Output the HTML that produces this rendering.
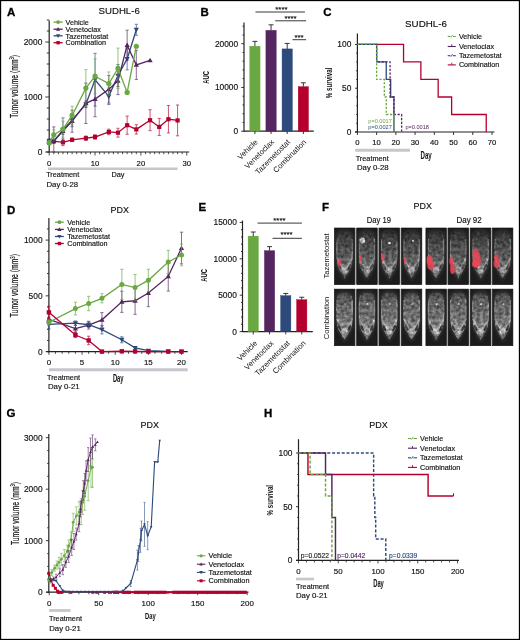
<!DOCTYPE html><html><head><meta charset="utf-8"><style>html,body{margin:0;padding:0;background:#fff}svg{display:block;will-change:transform}text{font-family:"Liberation Sans",sans-serif}</style></head><body>
<svg width="520" height="640" viewBox="0 0 520 640">
<rect x="0" y="0" width="520" height="640" fill="#fff"/>
<text x="7" y="16.4" font-size="11.5" font-weight="bold" fill="#000" stroke="#000" stroke-width="0.3">A</text>
<text x="98.6" y="14.3" font-size="9.5" text-anchor="start" fill="#111" font-weight="normal" stroke="#111" stroke-width="0.15"  textLength="41.2" lengthAdjust="spacingAndGlyphs">SUDHL-6</text>
<line x1="49.2" y1="20.4" x2="49.2" y2="152.5" stroke="#222" stroke-width="1.2" />
<line x1="46.5" y1="152" x2="189.2" y2="152" stroke="#222" stroke-width="1.2" />
<line x1="45.3" y1="152" x2="49.2" y2="152" stroke="#222" stroke-width="0.9" />
<line x1="46.8" y1="141" x2="49.2" y2="141" stroke="#222" stroke-width="0.9" />
<line x1="46.8" y1="130" x2="49.2" y2="130" stroke="#222" stroke-width="0.9" />
<line x1="46.8" y1="119" x2="49.2" y2="119" stroke="#222" stroke-width="0.9" />
<line x1="46.8" y1="108" x2="49.2" y2="108" stroke="#222" stroke-width="0.9" />
<line x1="45.3" y1="97" x2="49.2" y2="97" stroke="#222" stroke-width="0.9" />
<line x1="46.8" y1="86" x2="49.2" y2="86" stroke="#222" stroke-width="0.9" />
<line x1="46.8" y1="75" x2="49.2" y2="75" stroke="#222" stroke-width="0.9" />
<line x1="46.8" y1="64" x2="49.2" y2="64" stroke="#222" stroke-width="0.9" />
<line x1="46.8" y1="53" x2="49.2" y2="53" stroke="#222" stroke-width="0.9" />
<line x1="45.3" y1="42" x2="49.2" y2="42" stroke="#222" stroke-width="0.9" />
<line x1="46.8" y1="31" x2="49.2" y2="31" stroke="#222" stroke-width="0.9" />
<line x1="46.8" y1="20" x2="49.2" y2="20" stroke="#222" stroke-width="0.9" />
<text x="42.3" y="155" font-size="8.4" text-anchor="end" fill="#111" font-weight="normal" stroke="#111" stroke-width="0.15" >0</text>
<text x="42.3" y="100" font-size="8.4" text-anchor="end" fill="#111" font-weight="normal" stroke="#111" stroke-width="0.15" >1000</text>
<text x="42.3" y="45" font-size="8.4" text-anchor="end" fill="#111" font-weight="normal" stroke="#111" stroke-width="0.15" >2000</text>
<line x1="49.2" y1="152" x2="49.2" y2="155.5" stroke="#222" stroke-width="0.8" />
<line x1="53.79" y1="152" x2="53.79" y2="154.2" stroke="#222" stroke-width="0.8" />
<line x1="58.37" y1="152" x2="58.37" y2="154.2" stroke="#222" stroke-width="0.8" />
<line x1="62.95" y1="152" x2="62.95" y2="154.2" stroke="#222" stroke-width="0.8" />
<line x1="67.54" y1="152" x2="67.54" y2="154.2" stroke="#222" stroke-width="0.8" />
<line x1="72.12" y1="152" x2="72.12" y2="154.2" stroke="#222" stroke-width="0.8" />
<line x1="76.71" y1="152" x2="76.71" y2="154.2" stroke="#222" stroke-width="0.8" />
<line x1="81.3" y1="152" x2="81.3" y2="154.2" stroke="#222" stroke-width="0.8" />
<line x1="85.88" y1="152" x2="85.88" y2="154.2" stroke="#222" stroke-width="0.8" />
<line x1="90.47" y1="152" x2="90.47" y2="154.2" stroke="#222" stroke-width="0.8" />
<line x1="95.05" y1="152" x2="95.05" y2="155.5" stroke="#222" stroke-width="0.8" />
<line x1="99.64" y1="152" x2="99.64" y2="154.2" stroke="#222" stroke-width="0.8" />
<line x1="104.22" y1="152" x2="104.22" y2="154.2" stroke="#222" stroke-width="0.8" />
<line x1="108.81" y1="152" x2="108.81" y2="154.2" stroke="#222" stroke-width="0.8" />
<line x1="113.39" y1="152" x2="113.39" y2="154.2" stroke="#222" stroke-width="0.8" />
<line x1="117.98" y1="152" x2="117.98" y2="154.2" stroke="#222" stroke-width="0.8" />
<line x1="122.56" y1="152" x2="122.56" y2="154.2" stroke="#222" stroke-width="0.8" />
<line x1="127.14" y1="152" x2="127.14" y2="154.2" stroke="#222" stroke-width="0.8" />
<line x1="131.73" y1="152" x2="131.73" y2="154.2" stroke="#222" stroke-width="0.8" />
<line x1="136.31" y1="152" x2="136.31" y2="154.2" stroke="#222" stroke-width="0.8" />
<line x1="140.9" y1="152" x2="140.9" y2="155.5" stroke="#222" stroke-width="0.8" />
<line x1="145.49" y1="152" x2="145.49" y2="154.2" stroke="#222" stroke-width="0.8" />
<line x1="150.07" y1="152" x2="150.07" y2="154.2" stroke="#222" stroke-width="0.8" />
<line x1="154.66" y1="152" x2="154.66" y2="154.2" stroke="#222" stroke-width="0.8" />
<line x1="159.24" y1="152" x2="159.24" y2="154.2" stroke="#222" stroke-width="0.8" />
<line x1="163.82" y1="152" x2="163.82" y2="154.2" stroke="#222" stroke-width="0.8" />
<line x1="168.41" y1="152" x2="168.41" y2="154.2" stroke="#222" stroke-width="0.8" />
<line x1="173" y1="152" x2="173" y2="154.2" stroke="#222" stroke-width="0.8" />
<line x1="177.58" y1="152" x2="177.58" y2="154.2" stroke="#222" stroke-width="0.8" />
<line x1="182.17" y1="152" x2="182.17" y2="154.2" stroke="#222" stroke-width="0.8" />
<line x1="186.75" y1="152" x2="186.75" y2="155.5" stroke="#222" stroke-width="0.8" />
<text x="49.2" y="165.5" font-size="7.7" text-anchor="middle" fill="#111" font-weight="normal" stroke="#111" stroke-width="0.15" >0</text>
<text x="95.05" y="165.5" font-size="7.7" text-anchor="middle" fill="#111" font-weight="normal" stroke="#111" stroke-width="0.15" >10</text>
<text x="140.9" y="165.5" font-size="7.7" text-anchor="middle" fill="#111" font-weight="normal" stroke="#111" stroke-width="0.15" >20</text>
<text x="186.75" y="165.5" font-size="7.7" text-anchor="middle" fill="#111" font-weight="normal" stroke="#111" stroke-width="0.15" >30</text>
<text transform="translate(18.2,86.5) rotate(-90) scale(0.63,1)" font-size="10.8" text-anchor="middle" fill="#111" font-weight="normal" stroke="#111" stroke-width="0.2">Tumor volume (mm<tspan font-size="6.5" dy="-3.8">3</tspan><tspan dy="3.8">)</tspan></text>
<g stroke="#b5002e" stroke-width="0.9" opacity="0.75"><line x1="49.2" y1="141.72" x2="49.2" y2="143.91"/><line x1="47.6" y1="141.72" x2="50.8" y2="141.72"/><line x1="47.6" y1="143.91" x2="50.8" y2="143.91"/></g>
<g stroke="#b5002e" stroke-width="0.9" opacity="0.75"><line x1="53.79" y1="139.46" x2="53.79" y2="142.76"/><line x1="52.19" y1="139.46" x2="55.39" y2="139.46"/><line x1="52.19" y1="142.76" x2="55.39" y2="142.76"/></g>
<g stroke="#b5002e" stroke-width="0.9" opacity="0.75"><line x1="62.95" y1="139.02" x2="62.95" y2="145.62"/><line x1="61.35" y1="139.02" x2="64.55" y2="139.02"/><line x1="61.35" y1="145.62" x2="64.55" y2="145.62"/></g>
<g stroke="#b5002e" stroke-width="0.9" opacity="0.75"><line x1="72.12" y1="138.14" x2="72.12" y2="141.44"/><line x1="70.53" y1="138.14" x2="73.72" y2="138.14"/><line x1="70.53" y1="141.44" x2="73.72" y2="141.44"/></g>
<g stroke="#b5002e" stroke-width="0.9" opacity="0.75"><line x1="85.88" y1="136" x2="85.88" y2="140.4"/><line x1="84.28" y1="136" x2="87.48" y2="136"/><line x1="84.28" y1="140.4" x2="87.48" y2="140.4"/></g>
<g stroke="#b5002e" stroke-width="0.9" opacity="0.75"><line x1="95.05" y1="134.78" x2="95.05" y2="139.19"/><line x1="93.45" y1="134.78" x2="96.65" y2="134.78"/><line x1="93.45" y1="139.19" x2="96.65" y2="139.19"/></g>
<g stroke="#b5002e" stroke-width="0.9" opacity="0.75"><line x1="108.81" y1="129.18" x2="108.81" y2="134.68"/><line x1="107.21" y1="129.18" x2="110.41" y2="129.18"/><line x1="107.21" y1="134.68" x2="110.41" y2="134.68"/></g>
<g stroke="#b5002e" stroke-width="0.9" opacity="0.75"><line x1="117.98" y1="128.29" x2="117.98" y2="137.09"/><line x1="116.38" y1="128.29" x2="119.58" y2="128.29"/><line x1="116.38" y1="137.09" x2="119.58" y2="137.09"/></g>
<g stroke="#b5002e" stroke-width="0.9" opacity="0.75"><line x1="127.14" y1="116.14" x2="127.14" y2="134.29"/><line x1="125.55" y1="116.14" x2="128.75" y2="116.14"/><line x1="125.55" y1="134.29" x2="128.75" y2="134.29"/></g>
<g stroke="#b5002e" stroke-width="0.9" opacity="0.75"><line x1="136.31" y1="124.72" x2="136.31" y2="134.07"/><line x1="134.72" y1="124.72" x2="137.91" y2="124.72"/><line x1="134.72" y1="134.07" x2="137.91" y2="134.07"/></g>
<g stroke="#b5002e" stroke-width="0.9" opacity="0.75"><line x1="150.07" y1="109.76" x2="150.07" y2="130.66"/><line x1="148.47" y1="109.76" x2="151.67" y2="109.76"/><line x1="148.47" y1="130.66" x2="151.67" y2="130.66"/></g>
<g stroke="#b5002e" stroke-width="0.9" opacity="0.75"><line x1="159.24" y1="118.4" x2="159.24" y2="135.44"/><line x1="157.64" y1="118.4" x2="160.84" y2="118.4"/><line x1="157.64" y1="135.44" x2="160.84" y2="135.44"/></g>
<g stroke="#b5002e" stroke-width="0.9" opacity="0.75"><line x1="168.41" y1="105.47" x2="168.41" y2="132.97"/><line x1="166.81" y1="105.47" x2="170.01" y2="105.47"/><line x1="166.81" y1="132.97" x2="170.01" y2="132.97"/></g>
<g stroke="#b5002e" stroke-width="0.9" opacity="0.75"><line x1="177.58" y1="105.03" x2="177.58" y2="135.83"/><line x1="175.98" y1="105.03" x2="179.18" y2="105.03"/><line x1="175.98" y1="135.83" x2="179.18" y2="135.83"/></g>
<polyline points="49.2,142.81 53.79,141.11 62.95,142.32 72.12,139.79 85.88,138.19 95.05,136.99 108.81,131.93 117.98,132.69 127.14,125.22 136.31,129.4 150.07,120.21 159.24,126.92 168.41,119.22 177.58,120.43" fill="none" stroke="#b5002e" stroke-width="1.3" />
<rect x="47.1" y="140.72" width="4.2" height="4.2" fill="#b5002e"/>
<rect x="51.69" y="139.01" width="4.2" height="4.2" fill="#b5002e"/>
<rect x="60.85" y="140.22" width="4.2" height="4.2" fill="#b5002e"/>
<rect x="70.03" y="137.69" width="4.2" height="4.2" fill="#b5002e"/>
<rect x="83.78" y="136.09" width="4.2" height="4.2" fill="#b5002e"/>
<rect x="92.95" y="134.89" width="4.2" height="4.2" fill="#b5002e"/>
<rect x="106.71" y="129.83" width="4.2" height="4.2" fill="#b5002e"/>
<rect x="115.88" y="130.59" width="4.2" height="4.2" fill="#b5002e"/>
<rect x="125.05" y="123.12" width="4.2" height="4.2" fill="#b5002e"/>
<rect x="134.22" y="127.3" width="4.2" height="4.2" fill="#b5002e"/>
<rect x="147.97" y="118.11" width="4.2" height="4.2" fill="#b5002e"/>
<rect x="157.14" y="124.82" width="4.2" height="4.2" fill="#b5002e"/>
<rect x="166.31" y="117.12" width="4.2" height="4.2" fill="#b5002e"/>
<rect x="175.48" y="118.33" width="4.2" height="4.2" fill="#b5002e"/>
<g stroke="#2c4a7c" stroke-width="0.9" opacity="0.75"><line x1="49.2" y1="138.8" x2="49.2" y2="143.2"/><line x1="47.6" y1="138.8" x2="50.8" y2="138.8"/><line x1="47.6" y1="143.2" x2="50.8" y2="143.2"/></g>
<g stroke="#2c4a7c" stroke-width="0.9" opacity="0.75"><line x1="53.79" y1="139.07" x2="53.79" y2="143.47"/><line x1="52.19" y1="139.07" x2="55.39" y2="139.07"/><line x1="52.19" y1="143.47" x2="55.39" y2="143.47"/></g>
<g stroke="#2c4a7c" stroke-width="0.9" opacity="0.75"><line x1="62.95" y1="117.9" x2="62.95" y2="142.1"/><line x1="61.35" y1="117.9" x2="64.55" y2="117.9"/><line x1="61.35" y1="142.1" x2="64.55" y2="142.1"/></g>
<g stroke="#2c4a7c" stroke-width="0.9" opacity="0.75"><line x1="72.12" y1="113.5" x2="72.12" y2="126.7"/><line x1="70.53" y1="113.5" x2="73.72" y2="113.5"/><line x1="70.53" y1="126.7" x2="73.72" y2="126.7"/></g>
<g stroke="#2c4a7c" stroke-width="0.9" opacity="0.75"><line x1="85.88" y1="100.85" x2="85.88" y2="107.45"/><line x1="84.28" y1="100.85" x2="87.48" y2="100.85"/><line x1="84.28" y1="107.45" x2="87.48" y2="107.45"/></g>
<g stroke="#2c4a7c" stroke-width="0.9" opacity="0.75"><line x1="95.05" y1="53.33" x2="95.05" y2="106.13"/><line x1="93.45" y1="53.33" x2="96.65" y2="53.33"/><line x1="93.45" y1="106.13" x2="96.65" y2="106.13"/></g>
<g stroke="#2c4a7c" stroke-width="0.9" opacity="0.75"><line x1="108.81" y1="88.09" x2="108.81" y2="104.59"/><line x1="107.21" y1="88.09" x2="110.41" y2="88.09"/><line x1="107.21" y1="104.59" x2="110.41" y2="104.59"/></g>
<g stroke="#2c4a7c" stroke-width="0.9" opacity="0.75"><line x1="117.98" y1="64.55" x2="117.98" y2="86.55"/><line x1="116.38" y1="64.55" x2="119.58" y2="64.55"/><line x1="116.38" y1="86.55" x2="119.58" y2="86.55"/></g>
<g stroke="#2c4a7c" stroke-width="0.9" opacity="0.75"><line x1="127.14" y1="47.89" x2="127.14" y2="69.89"/><line x1="125.55" y1="47.89" x2="128.75" y2="47.89"/><line x1="125.55" y1="69.89" x2="128.75" y2="69.89"/></g>
<g stroke="#2c4a7c" stroke-width="0.9" opacity="0.75"><line x1="136.31" y1="24.29" x2="136.31" y2="35.29"/><line x1="134.72" y1="24.29" x2="137.91" y2="24.29"/><line x1="134.72" y1="35.29" x2="137.91" y2="35.29"/></g>
<polyline points="49.2,141 53.79,141.28 62.95,130 72.12,120.1 85.88,104.15 95.05,79.73 108.81,96.34 117.98,75.55 127.14,58.89 136.31,29.79" fill="none" stroke="#2c4a7c" stroke-width="1.3" />
<polygon points="49.2,143.64 51.84,139.08 46.56,139.08" fill="#2c4a7c"/>
<polygon points="53.79,143.91 56.43,139.36 51.15,139.36" fill="#2c4a7c"/>
<polygon points="62.95,132.64 65.59,128.08 60.31,128.08" fill="#2c4a7c"/>
<polygon points="72.12,122.74 74.77,118.18 69.48,118.18" fill="#2c4a7c"/>
<polygon points="85.88,106.79 88.52,102.23 83.24,102.23" fill="#2c4a7c"/>
<polygon points="95.05,82.37 97.69,77.81 92.41,77.81" fill="#2c4a7c"/>
<polygon points="108.81,98.98 111.45,94.42 106.17,94.42" fill="#2c4a7c"/>
<polygon points="117.98,78.19 120.62,73.63 115.34,73.63" fill="#2c4a7c"/>
<polygon points="127.14,61.53 129.78,56.97 124.5,56.97" fill="#2c4a7c"/>
<polygon points="136.31,32.43 138.95,27.87 133.68,27.87" fill="#2c4a7c"/>
<g stroke="#55255f" stroke-width="0.9" opacity="0.75"><line x1="49.2" y1="139.9" x2="49.2" y2="144.3"/><line x1="47.6" y1="139.9" x2="50.8" y2="139.9"/><line x1="47.6" y1="144.3" x2="50.8" y2="144.3"/></g>
<g stroke="#55255f" stroke-width="0.9" opacity="0.75"><line x1="53.79" y1="126.92" x2="53.79" y2="152"/><line x1="52.19" y1="126.92" x2="55.39" y2="126.92"/><line x1="52.19" y1="152" x2="55.39" y2="152"/></g>
<g stroke="#55255f" stroke-width="0.9" opacity="0.75"><line x1="62.95" y1="127.8" x2="62.95" y2="134.4"/><line x1="61.35" y1="127.8" x2="64.55" y2="127.8"/><line x1="61.35" y1="134.4" x2="64.55" y2="134.4"/></g>
<g stroke="#55255f" stroke-width="0.9" opacity="0.75"><line x1="72.12" y1="110.2" x2="72.12" y2="132.2"/><line x1="70.53" y1="110.2" x2="73.72" y2="110.2"/><line x1="70.53" y1="132.2" x2="73.72" y2="132.2"/></g>
<g stroke="#55255f" stroke-width="0.9" opacity="0.75"><line x1="85.88" y1="83.14" x2="85.88" y2="123.51"/><line x1="84.28" y1="83.14" x2="87.48" y2="83.14"/><line x1="84.28" y1="123.51" x2="87.48" y2="123.51"/></g>
<g stroke="#55255f" stroke-width="0.9" opacity="0.75"><line x1="95.05" y1="81.49" x2="95.05" y2="116.69"/><line x1="93.45" y1="81.49" x2="96.65" y2="81.49"/><line x1="93.45" y1="116.69" x2="96.65" y2="116.69"/></g>
<g stroke="#55255f" stroke-width="0.9" opacity="0.75"><line x1="108.81" y1="75.55" x2="108.81" y2="103.05"/><line x1="107.21" y1="75.55" x2="110.41" y2="75.55"/><line x1="107.21" y1="103.05" x2="110.41" y2="103.05"/></g>
<g stroke="#55255f" stroke-width="0.9" opacity="0.75"><line x1="117.98" y1="67.08" x2="117.98" y2="94.58"/><line x1="116.38" y1="67.08" x2="119.58" y2="67.08"/><line x1="116.38" y1="94.58" x2="119.58" y2="94.58"/></g>
<g stroke="#55255f" stroke-width="0.9" opacity="0.75"><line x1="127.14" y1="30.17" x2="127.14" y2="60.2"/><line x1="125.55" y1="30.17" x2="128.75" y2="30.17"/><line x1="125.55" y1="60.2" x2="128.75" y2="60.2"/></g>
<g stroke="#55255f" stroke-width="0.9" opacity="0.75"><line x1="136.31" y1="50.36" x2="136.31" y2="79.51"/><line x1="134.72" y1="50.36" x2="137.91" y2="50.36"/><line x1="134.72" y1="79.51" x2="137.91" y2="79.51"/></g>
<polyline points="49.2,142.1 53.79,141 62.95,131.1 72.12,121.2 85.88,103.33 95.05,99.09 108.81,89.3 117.98,80.83 127.14,45.19 136.31,64.94 150.07,60.42" fill="none" stroke="#55255f" stroke-width="1.3" />
<polygon points="49.2,139.46 51.84,144.02 46.56,144.02" fill="#55255f"/>
<polygon points="53.79,138.36 56.43,142.92 51.15,142.92" fill="#55255f"/>
<polygon points="62.95,128.46 65.59,133.02 60.31,133.02" fill="#55255f"/>
<polygon points="72.12,118.56 74.77,123.12 69.48,123.12" fill="#55255f"/>
<polygon points="85.88,100.69 88.52,105.25 83.24,105.25" fill="#55255f"/>
<polygon points="95.05,96.45 97.69,101.01 92.41,101.01" fill="#55255f"/>
<polygon points="108.81,86.66 111.45,91.22 106.17,91.22" fill="#55255f"/>
<polygon points="117.98,78.19 120.62,82.75 115.34,82.75" fill="#55255f"/>
<polygon points="127.14,42.55 129.78,47.11 124.5,47.11" fill="#55255f"/>
<polygon points="136.31,62.3 138.95,66.86 133.68,66.86" fill="#55255f"/>
<polygon points="150.07,57.78 152.71,62.34 147.43,62.34" fill="#55255f"/>
<g stroke="#6aa842" stroke-width="0.9" opacity="0.75"><line x1="49.2" y1="140.62" x2="49.2" y2="145.01"/><line x1="47.6" y1="140.62" x2="50.8" y2="140.62"/><line x1="47.6" y1="145.01" x2="50.8" y2="145.01"/></g>
<g stroke="#6aa842" stroke-width="0.9" opacity="0.75"><line x1="53.79" y1="129.84" x2="53.79" y2="139.74"/><line x1="52.19" y1="129.84" x2="55.39" y2="129.84"/><line x1="52.19" y1="139.74" x2="55.39" y2="139.74"/></g>
<g stroke="#6aa842" stroke-width="0.9" opacity="0.75"><line x1="62.95" y1="121.2" x2="62.95" y2="137.15"/><line x1="61.35" y1="121.2" x2="64.55" y2="121.2"/><line x1="61.35" y1="137.15" x2="64.55" y2="137.15"/></g>
<g stroke="#6aa842" stroke-width="0.9" opacity="0.75"><line x1="72.12" y1="106.19" x2="72.12" y2="124.66"/><line x1="70.53" y1="106.19" x2="73.72" y2="106.19"/><line x1="70.53" y1="124.66" x2="73.72" y2="124.66"/></g>
<g stroke="#6aa842" stroke-width="0.9" opacity="0.75"><line x1="85.88" y1="69.61" x2="85.88" y2="106.57"/><line x1="84.28" y1="69.61" x2="87.48" y2="69.61"/><line x1="84.28" y1="106.57" x2="87.48" y2="106.57"/></g>
<g stroke="#6aa842" stroke-width="0.9" opacity="0.75"><line x1="95.05" y1="58.78" x2="95.05" y2="93.65"/><line x1="93.45" y1="58.78" x2="96.65" y2="58.78"/><line x1="93.45" y1="93.65" x2="96.65" y2="93.65"/></g>
<g stroke="#6aa842" stroke-width="0.9" opacity="0.75"><line x1="108.81" y1="71.97" x2="108.81" y2="95.08"/><line x1="107.21" y1="71.97" x2="110.41" y2="71.97"/><line x1="107.21" y1="95.08" x2="110.41" y2="95.08"/></g>
<g stroke="#6aa842" stroke-width="0.9" opacity="0.75"><line x1="117.98" y1="48.11" x2="117.98" y2="88.69"/><line x1="116.38" y1="48.11" x2="119.58" y2="48.11"/><line x1="116.38" y1="88.69" x2="119.58" y2="88.69"/></g>
<polyline points="49.2,142.81 53.79,134.78 62.95,129.18 72.12,115.42 85.88,88.09 95.05,76.21 108.81,83.53 117.98,68.4 127.14,92.44 136.31,46.23" fill="none" stroke="#6aa842" stroke-width="1.3" />
<circle cx="49.2" cy="142.81" r="2.6" fill="#6aa842"/>
<circle cx="53.79" cy="134.78" r="2.6" fill="#6aa842"/>
<circle cx="62.95" cy="129.18" r="2.6" fill="#6aa842"/>
<circle cx="72.12" cy="115.42" r="2.6" fill="#6aa842"/>
<circle cx="85.88" cy="88.09" r="2.6" fill="#6aa842"/>
<circle cx="95.05" cy="76.21" r="2.6" fill="#6aa842"/>
<circle cx="108.81" cy="83.53" r="2.6" fill="#6aa842"/>
<circle cx="117.98" cy="68.4" r="2.6" fill="#6aa842"/>
<circle cx="127.14" cy="92.44" r="2.6" fill="#6aa842"/>
<circle cx="136.31" cy="46.23" r="2.6" fill="#6aa842"/>
<line x1="53.5" y1="22.1" x2="62.7" y2="22.1" stroke="#6aa842" stroke-width="1.3" />
<circle cx="58.1" cy="22.1" r="1.9" fill="#6aa842"/>
<text x="65.6" y="24.8" font-size="7.2" text-anchor="start" fill="#111" font-weight="normal" stroke="#111" stroke-width="0.15" >Vehicle</text>
<line x1="53.5" y1="29.2" x2="62.7" y2="29.2" stroke="#55255f" stroke-width="1.3" />
<polygon points="58.1,27.11 60.19,30.72 56.01,30.72" fill="#55255f"/>
<text x="65.6" y="31.9" font-size="7.2" text-anchor="start" fill="#111" font-weight="normal" stroke="#111" stroke-width="0.15" >Venetoclax</text>
<line x1="53.5" y1="35.8" x2="62.7" y2="35.8" stroke="#2c4a7c" stroke-width="1.3" />
<polygon points="58.1,37.89 60.19,34.28 56.01,34.28" fill="#2c4a7c"/>
<text x="65.6" y="38.5" font-size="7.2" text-anchor="start" fill="#111" font-weight="normal" stroke="#111" stroke-width="0.15" >Tazemetostat</text>
<line x1="53.5" y1="42.7" x2="62.7" y2="42.7" stroke="#b5002e" stroke-width="1.3" />
<rect x="56.4" y="41" width="3.4" height="3.4" fill="#b5002e"/>
<text x="65.6" y="45.4" font-size="7.2" text-anchor="start" fill="#111" font-weight="normal" stroke="#111" stroke-width="0.15" >Combination</text>
<line x1="48" y1="168.7" x2="177.5" y2="168.7" stroke="#c6c6cc" stroke-width="2.6" />
<text x="46.2" y="177.4" font-size="7.3" text-anchor="start" fill="#111" font-weight="normal" stroke="#111" stroke-width="0.15" >Treatment</text>
<text x="46.5" y="186.9" font-size="7.4" text-anchor="start" fill="#111" font-weight="normal" stroke="#111" stroke-width="0.15"  textLength="31.6" lengthAdjust="spacingAndGlyphs">Day 0-28</text>
<text x="111.4" y="177.4" font-size="7.3" text-anchor="start" fill="#111" font-weight="normal" stroke="#111" stroke-width="0.15" >Day</text>
<text x="200.5" y="16.2" font-size="11.5" font-weight="bold" fill="#000" stroke="#000" stroke-width="0.3">B</text>
<line x1="244" y1="22.6" x2="244" y2="131.7" stroke="#222" stroke-width="1.2" />
<line x1="244" y1="131.2" x2="313.8" y2="131.2" stroke="#222" stroke-width="1.2" />
<line x1="241.2" y1="131.2" x2="244" y2="131.2" stroke="#222" stroke-width="0.9" />
<line x1="242.5" y1="122.45" x2="244" y2="122.45" stroke="#222" stroke-width="0.9" />
<line x1="242.5" y1="113.7" x2="244" y2="113.7" stroke="#222" stroke-width="0.9" />
<line x1="242.5" y1="104.95" x2="244" y2="104.95" stroke="#222" stroke-width="0.9" />
<line x1="242.5" y1="96.2" x2="244" y2="96.2" stroke="#222" stroke-width="0.9" />
<line x1="241.2" y1="87.45" x2="244" y2="87.45" stroke="#222" stroke-width="0.9" />
<line x1="242.5" y1="78.7" x2="244" y2="78.7" stroke="#222" stroke-width="0.9" />
<line x1="242.5" y1="69.95" x2="244" y2="69.95" stroke="#222" stroke-width="0.9" />
<line x1="242.5" y1="61.2" x2="244" y2="61.2" stroke="#222" stroke-width="0.9" />
<line x1="242.5" y1="52.45" x2="244" y2="52.45" stroke="#222" stroke-width="0.9" />
<line x1="241.2" y1="43.7" x2="244" y2="43.7" stroke="#222" stroke-width="0.9" />
<line x1="242.5" y1="34.95" x2="244" y2="34.95" stroke="#222" stroke-width="0.9" />
<line x1="242.5" y1="26.2" x2="244" y2="26.2" stroke="#222" stroke-width="0.9" />
<text x="238.2" y="134.2" font-size="8.4" text-anchor="end" fill="#111" font-weight="normal" stroke="#111" stroke-width="0.15" >0</text>
<text x="238.2" y="90.45" font-size="8.4" text-anchor="end" fill="#111" font-weight="normal" stroke="#111" stroke-width="0.15" >10000</text>
<text x="238.2" y="46.7" font-size="8.4" text-anchor="end" fill="#111" font-weight="normal" stroke="#111" stroke-width="0.15" >20000</text>
<text transform="translate(209.2,77.4) rotate(-90) scale(0.64,1)" font-size="9.2" text-anchor="middle" fill="#111" font-weight="bold">AUC</text>
<rect x="249.75" y="46.19" width="10.3" height="85.01" fill="#6aa842" stroke="#6aa842" stroke-width="0.4"/>
<line x1="254.9" y1="46.19" x2="254.9" y2="41.38" stroke="#222" stroke-width="0.9" />
<line x1="252.4" y1="41.38" x2="257.4" y2="41.38" stroke="#222" stroke-width="0.9" />
<line x1="254.9" y1="131.2" x2="254.9" y2="134" stroke="#222" stroke-width="0.9" />
<rect x="265.9" y="30.31" width="10.3" height="100.89" fill="#55255f" stroke="#55255f" stroke-width="0.4"/>
<line x1="271.05" y1="30.31" x2="271.05" y2="24.84" stroke="#222" stroke-width="0.9" />
<line x1="268.55" y1="24.84" x2="273.55" y2="24.84" stroke="#222" stroke-width="0.9" />
<line x1="271.05" y1="131.2" x2="271.05" y2="134" stroke="#222" stroke-width="0.9" />
<rect x="282.05" y="48.91" width="10.3" height="82.29" fill="#2c4a7c" stroke="#2c4a7c" stroke-width="0.4"/>
<line x1="287.2" y1="48.91" x2="287.2" y2="43.44" stroke="#222" stroke-width="0.9" />
<line x1="284.7" y1="43.44" x2="289.7" y2="43.44" stroke="#222" stroke-width="0.9" />
<line x1="287.2" y1="131.2" x2="287.2" y2="134" stroke="#222" stroke-width="0.9" />
<rect x="298.2" y="86.62" width="10.3" height="44.58" fill="#b5002e" stroke="#b5002e" stroke-width="0.4"/>
<line x1="303.35" y1="86.62" x2="303.35" y2="82.81" stroke="#222" stroke-width="0.9" />
<line x1="300.85" y1="82.81" x2="305.85" y2="82.81" stroke="#222" stroke-width="0.9" />
<line x1="303.35" y1="131.2" x2="303.35" y2="134" stroke="#222" stroke-width="0.9" />
<text transform="translate(258.3,142.6) rotate(-45) scale(1.0,1)" font-size="7.7" text-anchor="end" fill="#111" font-weight="normal">Vehicle</text>
<text transform="translate(274.45,142.6) rotate(-45) scale(1.0,1)" font-size="7.7" text-anchor="end" fill="#111" font-weight="normal">Venetoclax</text>
<text transform="translate(290.6,142.6) rotate(-45) scale(1.0,1)" font-size="7.7" text-anchor="end" fill="#111" font-weight="normal">Tazemetostat</text>
<text transform="translate(306.75,142.6) rotate(-45) scale(1.0,1)" font-size="7.7" text-anchor="end" fill="#111" font-weight="normal">Combination</text>
<line x1="255.5" y1="12" x2="304.9" y2="12" stroke="#222" stroke-width="0.9" />
<text x="281.4" y="12.2" font-size="7.8" text-anchor="middle" fill="#111" font-weight="normal" stroke="#111" stroke-width="0.15" >****</text>
<line x1="275.2" y1="20.8" x2="306.1" y2="20.8" stroke="#222" stroke-width="0.9" />
<text x="290.6" y="20.8" font-size="7.8" text-anchor="middle" fill="#111" font-weight="normal" stroke="#111" stroke-width="0.15" >****</text>
<line x1="292.5" y1="39.7" x2="306.1" y2="39.7" stroke="#222" stroke-width="0.9" />
<text x="299" y="39.8" font-size="7.8" text-anchor="middle" fill="#111" font-weight="normal" stroke="#111" stroke-width="0.15" >***</text>
<text x="323.2" y="16.2" font-size="11.5" font-weight="bold" fill="#000" stroke="#000" stroke-width="0.3">C</text>
<text x="405.1" y="27.1" font-size="9.4" text-anchor="start" fill="#111" font-weight="normal" stroke="#111" stroke-width="0.15"  textLength="41.8" lengthAdjust="spacingAndGlyphs">SUDHL-6</text>
<line x1="357.4" y1="33.5" x2="357.4" y2="132.5" stroke="#222" stroke-width="1.2" />
<line x1="355" y1="132" x2="494.5" y2="132" stroke="#222" stroke-width="1.2" />
<line x1="355" y1="132" x2="357.4" y2="132" stroke="#222" stroke-width="0.9" />
<line x1="356.2" y1="123.25" x2="357.4" y2="123.25" stroke="#222" stroke-width="0.9" />
<line x1="356.2" y1="114.49" x2="357.4" y2="114.49" stroke="#222" stroke-width="0.9" />
<line x1="356.2" y1="105.73" x2="357.4" y2="105.73" stroke="#222" stroke-width="0.9" />
<line x1="356.2" y1="96.98" x2="357.4" y2="96.98" stroke="#222" stroke-width="0.9" />
<line x1="355" y1="88.22" x2="357.4" y2="88.22" stroke="#222" stroke-width="0.9" />
<line x1="356.2" y1="79.47" x2="357.4" y2="79.47" stroke="#222" stroke-width="0.9" />
<line x1="356.2" y1="70.72" x2="357.4" y2="70.72" stroke="#222" stroke-width="0.9" />
<line x1="356.2" y1="61.96" x2="357.4" y2="61.96" stroke="#222" stroke-width="0.9" />
<line x1="356.2" y1="53.2" x2="357.4" y2="53.2" stroke="#222" stroke-width="0.9" />
<line x1="355" y1="44.45" x2="357.4" y2="44.45" stroke="#222" stroke-width="0.9" />
<text x="351.3" y="135" font-size="8.4" text-anchor="end" fill="#111" font-weight="normal" stroke="#111" stroke-width="0.15" >0</text>
<text x="351.3" y="91.22" font-size="8.4" text-anchor="end" fill="#111" font-weight="normal" stroke="#111" stroke-width="0.15" >50</text>
<text x="351.3" y="47.45" font-size="8.4" text-anchor="end" fill="#111" font-weight="normal" stroke="#111" stroke-width="0.15" >100</text>
<line x1="357.4" y1="132" x2="357.4" y2="135" stroke="#222" stroke-width="0.9" />
<line x1="376.63" y1="132" x2="376.63" y2="135" stroke="#222" stroke-width="0.9" />
<line x1="395.86" y1="132" x2="395.86" y2="135" stroke="#222" stroke-width="0.9" />
<line x1="415.09" y1="132" x2="415.09" y2="135" stroke="#222" stroke-width="0.9" />
<line x1="434.32" y1="132" x2="434.32" y2="135" stroke="#222" stroke-width="0.9" />
<line x1="453.55" y1="132" x2="453.55" y2="135" stroke="#222" stroke-width="0.9" />
<line x1="472.78" y1="132" x2="472.78" y2="135" stroke="#222" stroke-width="0.9" />
<line x1="492.01" y1="132" x2="492.01" y2="135" stroke="#222" stroke-width="0.9" />
<text x="357.4" y="145.1" font-size="7.7" text-anchor="middle" fill="#111" font-weight="normal" stroke="#111" stroke-width="0.15" >0</text>
<text x="376.63" y="145.1" font-size="7.7" text-anchor="middle" fill="#111" font-weight="normal" stroke="#111" stroke-width="0.15" >10</text>
<text x="395.86" y="145.1" font-size="7.7" text-anchor="middle" fill="#111" font-weight="normal" stroke="#111" stroke-width="0.15" >20</text>
<text x="415.09" y="145.1" font-size="7.7" text-anchor="middle" fill="#111" font-weight="normal" stroke="#111" stroke-width="0.15" >30</text>
<text x="434.32" y="145.1" font-size="7.7" text-anchor="middle" fill="#111" font-weight="normal" stroke="#111" stroke-width="0.15" >40</text>
<text x="453.55" y="145.1" font-size="7.7" text-anchor="middle" fill="#111" font-weight="normal" stroke="#111" stroke-width="0.15" >50</text>
<text x="472.78" y="145.1" font-size="7.7" text-anchor="middle" fill="#111" font-weight="normal" stroke="#111" stroke-width="0.15" >60</text>
<text x="492.01" y="145.1" font-size="7.7" text-anchor="middle" fill="#111" font-weight="normal" stroke="#111" stroke-width="0.15" >70</text>
<text transform="translate(331.8,82.9) rotate(-90) scale(0.65,1)" font-size="9.5" text-anchor="middle" fill="#111" font-weight="bold">% survival</text>
<polyline points="376.63,44.45 403.55,44.45 403.55,61.96 420.86,61.96 420.86,79.47 438.17,79.47 438.17,96.98 451.63,96.98 451.63,114.49 486.24,114.49 486.24,132" fill="none" stroke="#b5002e" stroke-width="1.3" />
<polyline points="357.4,44.45 376.63,44.45 376.63,61.96 386.25,61.96 386.25,79.47 390.67,79.47 390.67,96.98 393.94,96.98 393.94,132" fill="none" stroke="#2c4a7c" stroke-width="1.3" />
<polyline points="357.4,44.45 376.63,44.45 376.63,61.96 390.09,61.96 390.09,96.98 393.94,96.98 393.94,114.49 401.63,114.49 401.63,132" fill="none" stroke="#55255f" stroke-width="1.3" stroke-dasharray="2.2,1.6"/>
<polyline points="357.4,44.45 376.63,44.45 376.63,79.47 384.32,79.47 384.32,96.98 386.25,96.98 386.25,114.49 393.94,114.49 393.94,132" fill="none" stroke="#6aa842" stroke-width="1.3" stroke-dasharray="2.2,1.6"/>
<polyline points="357.4,44.45 376.63,44.45" stroke="#2c4a7c" stroke-width="1.3" stroke-dasharray="2.2,1.6" stroke-dashoffset="1.9" fill="none"/>
<text x="368.3" y="123.2" font-size="5.6" text-anchor="start" fill="#6aa842" font-weight="normal" >p=0.0017</text>
<text x="368.3" y="129" font-size="5.6" text-anchor="start" fill="#2c4a7c" font-weight="normal" >p=0.0027</text>
<text x="405.4" y="129" font-size="5.6" text-anchor="start" fill="#55255f" font-weight="normal" >p=0.0018</text>
<line x1="447.7" y1="36.5" x2="450.5" y2="36.5" stroke="#6aa842" stroke-width="1.1" />
<line x1="453" y1="36.5" x2="455.8" y2="36.5" stroke="#6aa842" stroke-width="1.1" />
<line x1="451" y1="37.5" x2="452.6" y2="34.9" stroke="#6aa842" stroke-width="0.9" />
<text x="458.9" y="39" font-size="7.2" text-anchor="start" fill="#111" font-weight="normal" stroke="#111" stroke-width="0.15" >Vehicle</text>
<line x1="447.7" y1="46.5" x2="455.8" y2="46.5" stroke="#55255f" stroke-width="1.1" />
<line x1="451.75" y1="46.5" x2="451.75" y2="44.3" stroke="#55255f" stroke-width="0.9" />
<text x="458.9" y="49" font-size="7.2" text-anchor="start" fill="#111" font-weight="normal" stroke="#111" stroke-width="0.15" >Venetoclax</text>
<line x1="447.7" y1="55.7" x2="450.5" y2="55.7" stroke="#2c4a7c" stroke-width="1.1" />
<line x1="453" y1="55.7" x2="455.8" y2="55.7" stroke="#2c4a7c" stroke-width="1.1" />
<line x1="451" y1="56.7" x2="452.6" y2="54.1" stroke="#2c4a7c" stroke-width="0.9" />
<text x="458.9" y="58.2" font-size="7.2" text-anchor="start" fill="#111" font-weight="normal" stroke="#111" stroke-width="0.15" >Tazemetostat</text>
<line x1="447.7" y1="64.9" x2="455.8" y2="64.9" stroke="#b5002e" stroke-width="1.1" />
<line x1="451.75" y1="64.9" x2="451.75" y2="62.7" stroke="#b5002e" stroke-width="0.9" />
<text x="458.9" y="67.4" font-size="7.2" text-anchor="start" fill="#111" font-weight="normal" stroke="#111" stroke-width="0.15" >Combination</text>
<line x1="355.2" y1="150.3" x2="410" y2="150.3" stroke="#c6c6cc" stroke-width="2.9" />
<text x="355.7" y="160.5" font-size="7.3" text-anchor="start" fill="#111" font-weight="normal" stroke="#111" stroke-width="0.15" >Treatment</text>
<text x="357" y="169.6" font-size="7.4" text-anchor="start" fill="#111" font-weight="normal" stroke="#111" stroke-width="0.15"  textLength="31.6" lengthAdjust="spacingAndGlyphs">Day 0-28</text>
<text transform="translate(420.5,158.6) scale(0.59,1)" font-size="10.4" text-anchor="start" fill="#111" font-weight="bold">Day</text>
<text x="7" y="214.4" font-size="11.5" font-weight="bold" fill="#000" stroke="#000" stroke-width="0.3">D</text>
<text x="110.6" y="212.5" font-size="9.5" text-anchor="start" fill="#111" font-weight="normal" stroke="#111" stroke-width="0.15"  textLength="18.4" lengthAdjust="spacingAndGlyphs">PDX</text>
<line x1="48.9" y1="218.1" x2="48.9" y2="352.2" stroke="#222" stroke-width="1.2" />
<line x1="46.5" y1="351.6" x2="187.7" y2="351.6" stroke="#222" stroke-width="1.2" />
<line x1="45.6" y1="351.6" x2="48.9" y2="351.6" stroke="#222" stroke-width="0.9" />
<line x1="47" y1="340.45" x2="48.9" y2="340.45" stroke="#222" stroke-width="0.9" />
<line x1="47" y1="329.3" x2="48.9" y2="329.3" stroke="#222" stroke-width="0.9" />
<line x1="47" y1="318.15" x2="48.9" y2="318.15" stroke="#222" stroke-width="0.9" />
<line x1="47" y1="307" x2="48.9" y2="307" stroke="#222" stroke-width="0.9" />
<line x1="45.6" y1="295.85" x2="48.9" y2="295.85" stroke="#222" stroke-width="0.9" />
<line x1="47" y1="284.7" x2="48.9" y2="284.7" stroke="#222" stroke-width="0.9" />
<line x1="47" y1="273.55" x2="48.9" y2="273.55" stroke="#222" stroke-width="0.9" />
<line x1="47" y1="262.4" x2="48.9" y2="262.4" stroke="#222" stroke-width="0.9" />
<line x1="47" y1="251.25" x2="48.9" y2="251.25" stroke="#222" stroke-width="0.9" />
<line x1="45.6" y1="240.1" x2="48.9" y2="240.1" stroke="#222" stroke-width="0.9" />
<line x1="47" y1="228.95" x2="48.9" y2="228.95" stroke="#222" stroke-width="0.9" />
<text x="42.6" y="354.6" font-size="8.4" text-anchor="end" fill="#111" font-weight="normal" stroke="#111" stroke-width="0.15" >0</text>
<text x="42.6" y="298.85" font-size="8.4" text-anchor="end" fill="#111" font-weight="normal" stroke="#111" stroke-width="0.15" >500</text>
<text x="42.6" y="243.1" font-size="8.4" text-anchor="end" fill="#111" font-weight="normal" stroke="#111" stroke-width="0.15" >1000</text>
<line x1="48.9" y1="351.6" x2="48.9" y2="354.8" stroke="#222" stroke-width="0.8" />
<line x1="55.53" y1="351.6" x2="55.53" y2="353.8" stroke="#222" stroke-width="0.8" />
<line x1="62.16" y1="351.6" x2="62.16" y2="353.8" stroke="#222" stroke-width="0.8" />
<line x1="68.79" y1="351.6" x2="68.79" y2="353.8" stroke="#222" stroke-width="0.8" />
<line x1="75.42" y1="351.6" x2="75.42" y2="353.8" stroke="#222" stroke-width="0.8" />
<line x1="82.05" y1="351.6" x2="82.05" y2="354.8" stroke="#222" stroke-width="0.8" />
<line x1="88.68" y1="351.6" x2="88.68" y2="353.8" stroke="#222" stroke-width="0.8" />
<line x1="95.31" y1="351.6" x2="95.31" y2="353.8" stroke="#222" stroke-width="0.8" />
<line x1="101.94" y1="351.6" x2="101.94" y2="353.8" stroke="#222" stroke-width="0.8" />
<line x1="108.57" y1="351.6" x2="108.57" y2="353.8" stroke="#222" stroke-width="0.8" />
<line x1="115.2" y1="351.6" x2="115.2" y2="354.8" stroke="#222" stroke-width="0.8" />
<line x1="121.83" y1="351.6" x2="121.83" y2="353.8" stroke="#222" stroke-width="0.8" />
<line x1="128.46" y1="351.6" x2="128.46" y2="353.8" stroke="#222" stroke-width="0.8" />
<line x1="135.09" y1="351.6" x2="135.09" y2="353.8" stroke="#222" stroke-width="0.8" />
<line x1="141.72" y1="351.6" x2="141.72" y2="353.8" stroke="#222" stroke-width="0.8" />
<line x1="148.35" y1="351.6" x2="148.35" y2="354.8" stroke="#222" stroke-width="0.8" />
<line x1="154.98" y1="351.6" x2="154.98" y2="353.8" stroke="#222" stroke-width="0.8" />
<line x1="161.61" y1="351.6" x2="161.61" y2="353.8" stroke="#222" stroke-width="0.8" />
<line x1="168.24" y1="351.6" x2="168.24" y2="353.8" stroke="#222" stroke-width="0.8" />
<line x1="174.87" y1="351.6" x2="174.87" y2="353.8" stroke="#222" stroke-width="0.8" />
<line x1="181.5" y1="351.6" x2="181.5" y2="354.8" stroke="#222" stroke-width="0.8" />
<text x="48.9" y="364.7" font-size="7.9" text-anchor="middle" fill="#111" font-weight="normal" stroke="#111" stroke-width="0.15" >0</text>
<text x="82.05" y="364.7" font-size="7.9" text-anchor="middle" fill="#111" font-weight="normal" stroke="#111" stroke-width="0.15" >5</text>
<text x="115.2" y="364.7" font-size="7.9" text-anchor="middle" fill="#111" font-weight="normal" stroke="#111" stroke-width="0.15" >10</text>
<text x="148.35" y="364.7" font-size="7.9" text-anchor="middle" fill="#111" font-weight="normal" stroke="#111" stroke-width="0.15" >15</text>
<text x="181.5" y="364.7" font-size="7.9" text-anchor="middle" fill="#111" font-weight="normal" stroke="#111" stroke-width="0.15" >20</text>
<text transform="translate(18.4,285.7) rotate(-90) scale(0.63,1)" font-size="10.8" text-anchor="middle" fill="#111" font-weight="normal" stroke="#111" stroke-width="0.2">Tumor volume (mm<tspan font-size="6.5" dy="-3.8">3</tspan><tspan dy="3.8">)</tspan></text>
<g stroke="#55255f" stroke-width="0.9" opacity="0.75"><line x1="48.9" y1="317.04" x2="48.9" y2="321.5"/><line x1="47.3" y1="317.04" x2="50.5" y2="317.04"/><line x1="47.3" y1="321.5" x2="50.5" y2="321.5"/></g>
<g stroke="#55255f" stroke-width="0.9" opacity="0.75"><line x1="75.42" y1="325.29" x2="75.42" y2="331.98"/><line x1="73.82" y1="325.29" x2="77.02" y2="325.29"/><line x1="73.82" y1="331.98" x2="77.02" y2="331.98"/></g>
<g stroke="#55255f" stroke-width="0.9" opacity="0.75"><line x1="88.68" y1="321.27" x2="88.68" y2="329.08"/><line x1="87.08" y1="321.27" x2="90.28" y2="321.27"/><line x1="87.08" y1="329.08" x2="90.28" y2="329.08"/></g>
<g stroke="#55255f" stroke-width="0.9" opacity="0.75"><line x1="101.94" y1="312.58" x2="101.94" y2="327.07"/><line x1="100.34" y1="312.58" x2="103.54" y2="312.58"/><line x1="100.34" y1="327.07" x2="103.54" y2="327.07"/></g>
<g stroke="#55255f" stroke-width="0.9" opacity="0.75"><line x1="121.83" y1="291.17" x2="121.83" y2="312.35"/><line x1="120.23" y1="291.17" x2="123.43" y2="291.17"/><line x1="120.23" y1="312.35" x2="123.43" y2="312.35"/></g>
<g stroke="#55255f" stroke-width="0.9" opacity="0.75"><line x1="135.09" y1="287.15" x2="135.09" y2="314.36"/><line x1="133.49" y1="287.15" x2="136.69" y2="287.15"/><line x1="133.49" y1="314.36" x2="136.69" y2="314.36"/></g>
<g stroke="#55255f" stroke-width="0.9" opacity="0.75"><line x1="148.35" y1="279.46" x2="148.35" y2="306.67"/><line x1="146.75" y1="279.46" x2="149.95" y2="279.46"/><line x1="146.75" y1="306.67" x2="149.95" y2="306.67"/></g>
<g stroke="#55255f" stroke-width="0.9" opacity="0.75"><line x1="168.24" y1="261.84" x2="168.24" y2="291.06"/><line x1="166.64" y1="261.84" x2="169.84" y2="261.84"/><line x1="166.64" y1="291.06" x2="169.84" y2="291.06"/></g>
<g stroke="#55255f" stroke-width="0.9" opacity="0.75"><line x1="181.5" y1="232.18" x2="181.5" y2="263.85"/><line x1="179.9" y1="232.18" x2="183.1" y2="232.18"/><line x1="179.9" y1="263.85" x2="183.1" y2="263.85"/></g>
<polyline points="48.9,319.27 75.42,328.63 88.68,325.17 101.94,319.82 121.83,301.76 135.09,300.76 148.35,293.06 168.24,276.45 181.5,248.02" fill="none" stroke="#55255f" stroke-width="1.3" />
<polygon points="48.9,316.63 51.54,321.19 46.26,321.19" fill="#55255f"/>
<polygon points="75.42,325.99 78.06,330.55 72.78,330.55" fill="#55255f"/>
<polygon points="88.68,322.53 91.32,327.09 86.04,327.09" fill="#55255f"/>
<polygon points="101.94,317.18 104.58,321.74 99.3,321.74" fill="#55255f"/>
<polygon points="121.83,299.12 124.47,303.68 119.19,303.68" fill="#55255f"/>
<polygon points="135.09,298.12 137.73,302.68 132.45,302.68" fill="#55255f"/>
<polygon points="148.35,290.42 150.99,294.98 145.71,294.98" fill="#55255f"/>
<polygon points="168.24,273.81 170.88,278.37 165.6,278.37" fill="#55255f"/>
<polygon points="181.5,245.38 184.14,249.94 178.86,249.94" fill="#55255f"/>
<g stroke="#2c4a7c" stroke-width="0.9" opacity="0.75"><line x1="48.9" y1="319.93" x2="48.9" y2="328.85"/><line x1="47.3" y1="319.93" x2="50.5" y2="319.93"/><line x1="47.3" y1="328.85" x2="50.5" y2="328.85"/></g>
<g stroke="#2c4a7c" stroke-width="0.9" opacity="0.75"><line x1="75.42" y1="320.94" x2="75.42" y2="325.4"/><line x1="73.82" y1="320.94" x2="77.02" y2="320.94"/><line x1="73.82" y1="325.4" x2="77.02" y2="325.4"/></g>
<g stroke="#2c4a7c" stroke-width="0.9" opacity="0.75"><line x1="88.68" y1="321.94" x2="88.68" y2="327.52"/><line x1="87.08" y1="321.94" x2="90.28" y2="321.94"/><line x1="87.08" y1="327.52" x2="90.28" y2="327.52"/></g>
<g stroke="#2c4a7c" stroke-width="0.9" opacity="0.75"><line x1="101.94" y1="325.4" x2="101.94" y2="333.87"/><line x1="100.34" y1="325.4" x2="103.54" y2="325.4"/><line x1="100.34" y1="333.87" x2="103.54" y2="333.87"/></g>
<g stroke="#2c4a7c" stroke-width="0.9" opacity="0.75"><line x1="121.83" y1="336.77" x2="121.83" y2="342.79"/><line x1="120.23" y1="336.77" x2="123.43" y2="336.77"/><line x1="120.23" y1="342.79" x2="123.43" y2="342.79"/></g>
<g stroke="#2c4a7c" stroke-width="0.9" opacity="0.75"><line x1="135.09" y1="346.81" x2="135.09" y2="349.04"/><line x1="133.49" y1="346.81" x2="136.69" y2="346.81"/><line x1="133.49" y1="349.04" x2="136.69" y2="349.04"/></g>
<polyline points="48.9,324.39 75.42,323.17 88.68,324.73 101.94,329.63 121.83,339.78 135.09,347.92 148.35,350.6 168.24,351.38 181.5,351.6" fill="none" stroke="#2c4a7c" stroke-width="1.3" />
<polygon points="48.9,327.03 51.54,322.47 46.26,322.47" fill="#2c4a7c"/>
<polygon points="75.42,325.81 78.06,321.25 72.78,321.25" fill="#2c4a7c"/>
<polygon points="88.68,327.37 91.32,322.81 86.04,322.81" fill="#2c4a7c"/>
<polygon points="101.94,332.27 104.58,327.71 99.3,327.71" fill="#2c4a7c"/>
<polygon points="121.83,342.42 124.47,337.86 119.19,337.86" fill="#2c4a7c"/>
<polygon points="135.09,350.56 137.73,346 132.45,346" fill="#2c4a7c"/>
<polygon points="148.35,353.24 150.99,348.68 145.71,348.68" fill="#2c4a7c"/>
<polygon points="168.24,354.02 170.88,349.46 165.6,349.46" fill="#2c4a7c"/>
<polygon points="181.5,354.24 184.14,349.68 178.86,349.68" fill="#2c4a7c"/>
<g stroke="#6aa842" stroke-width="0.9" opacity="0.75"><line x1="48.9" y1="318.93" x2="48.9" y2="325.62"/><line x1="47.3" y1="318.93" x2="50.5" y2="318.93"/><line x1="47.3" y1="325.62" x2="50.5" y2="325.62"/></g>
<g stroke="#6aa842" stroke-width="0.9" opacity="0.75"><line x1="75.42" y1="302.21" x2="75.42" y2="314.92"/><line x1="73.82" y1="302.21" x2="77.02" y2="302.21"/><line x1="73.82" y1="314.92" x2="77.02" y2="314.92"/></g>
<g stroke="#6aa842" stroke-width="0.9" opacity="0.75"><line x1="88.68" y1="296.3" x2="88.68" y2="310.79"/><line x1="87.08" y1="296.3" x2="90.28" y2="296.3"/><line x1="87.08" y1="310.79" x2="90.28" y2="310.79"/></g>
<g stroke="#6aa842" stroke-width="0.9" opacity="0.75"><line x1="101.94" y1="293.73" x2="101.94" y2="302.87"/><line x1="100.34" y1="293.73" x2="103.54" y2="293.73"/><line x1="100.34" y1="302.87" x2="103.54" y2="302.87"/></g>
<g stroke="#6aa842" stroke-width="0.9" opacity="0.75"><line x1="121.83" y1="269.31" x2="121.83" y2="299.64"/><line x1="120.23" y1="269.31" x2="123.43" y2="269.31"/><line x1="120.23" y1="299.64" x2="123.43" y2="299.64"/></g>
<g stroke="#6aa842" stroke-width="0.9" opacity="0.75"><line x1="135.09" y1="274.44" x2="135.09" y2="300.76"/><line x1="133.49" y1="274.44" x2="136.69" y2="274.44"/><line x1="133.49" y1="300.76" x2="136.69" y2="300.76"/></g>
<g stroke="#6aa842" stroke-width="0.9" opacity="0.75"><line x1="148.35" y1="269.2" x2="148.35" y2="291.5"/><line x1="146.75" y1="269.2" x2="149.95" y2="269.2"/><line x1="146.75" y1="291.5" x2="149.95" y2="291.5"/></g>
<g stroke="#6aa842" stroke-width="0.9" opacity="0.75"><line x1="168.24" y1="250.36" x2="168.24" y2="273.55"/><line x1="166.64" y1="250.36" x2="169.84" y2="250.36"/><line x1="166.64" y1="273.55" x2="169.84" y2="273.55"/></g>
<g stroke="#6aa842" stroke-width="0.9" opacity="0.75"><line x1="181.5" y1="244.11" x2="181.5" y2="265.75"/><line x1="179.9" y1="244.11" x2="183.1" y2="244.11"/><line x1="179.9" y1="265.75" x2="183.1" y2="265.75"/></g>
<polyline points="48.9,322.28 75.42,308.56 88.68,303.54 101.94,298.3 121.83,284.48 135.09,287.6 148.35,280.35 168.24,261.95 181.5,254.93" fill="none" stroke="#6aa842" stroke-width="1.3" />
<circle cx="48.9" cy="322.28" r="2.5" fill="#6aa842"/>
<circle cx="75.42" cy="308.56" r="2.5" fill="#6aa842"/>
<circle cx="88.68" cy="303.54" r="2.5" fill="#6aa842"/>
<circle cx="101.94" cy="298.3" r="2.5" fill="#6aa842"/>
<circle cx="121.83" cy="284.48" r="2.5" fill="#6aa842"/>
<circle cx="135.09" cy="287.6" r="2.5" fill="#6aa842"/>
<circle cx="148.35" cy="280.35" r="2.5" fill="#6aa842"/>
<circle cx="168.24" cy="261.95" r="2.5" fill="#6aa842"/>
<circle cx="181.5" cy="254.93" r="2.5" fill="#6aa842"/>
<g stroke="#b5002e" stroke-width="0.9" opacity="0.75"><line x1="48.9" y1="306.22" x2="48.9" y2="318.48"/><line x1="47.3" y1="306.22" x2="50.5" y2="306.22"/><line x1="47.3" y1="318.48" x2="50.5" y2="318.48"/></g>
<g stroke="#b5002e" stroke-width="0.9" opacity="0.75"><line x1="75.42" y1="332.31" x2="75.42" y2="337.66"/><line x1="73.82" y1="332.31" x2="77.02" y2="332.31"/><line x1="73.82" y1="337.66" x2="77.02" y2="337.66"/></g>
<g stroke="#b5002e" stroke-width="0.9" opacity="0.75"><line x1="88.68" y1="336.21" x2="88.68" y2="344.69"/><line x1="87.08" y1="336.21" x2="90.28" y2="336.21"/><line x1="87.08" y1="344.69" x2="90.28" y2="344.69"/></g>
<polyline points="48.9,312.35 75.42,334.99 88.68,340.45 101.94,351.6 121.83,351.27 135.09,351.38 148.35,351.6 168.24,351.6 181.5,351.6" fill="none" stroke="#b5002e" stroke-width="1.3" />
<rect x="46.7" y="310.15" width="4.4" height="4.4" fill="#b5002e"/>
<rect x="73.22" y="332.79" width="4.4" height="4.4" fill="#b5002e"/>
<rect x="86.48" y="338.25" width="4.4" height="4.4" fill="#b5002e"/>
<rect x="99.74" y="349.4" width="4.4" height="4.4" fill="#b5002e"/>
<rect x="119.63" y="349.07" width="4.4" height="4.4" fill="#b5002e"/>
<rect x="132.89" y="349.18" width="4.4" height="4.4" fill="#b5002e"/>
<rect x="146.15" y="349.4" width="4.4" height="4.4" fill="#b5002e"/>
<rect x="166.04" y="349.4" width="4.4" height="4.4" fill="#b5002e"/>
<rect x="179.3" y="349.4" width="4.4" height="4.4" fill="#b5002e"/>
<line x1="55" y1="222.2" x2="63.8" y2="222.2" stroke="#6aa842" stroke-width="1.3" />
<circle cx="59.4" cy="222.2" r="1.9" fill="#6aa842"/>
<text x="67.2" y="224.9" font-size="7.2" text-anchor="start" fill="#111" font-weight="normal" stroke="#111" stroke-width="0.15" >Vehicle</text>
<line x1="55" y1="229.4" x2="63.8" y2="229.4" stroke="#55255f" stroke-width="1.3" />
<polygon points="59.4,227.31 61.49,230.92 57.31,230.92" fill="#55255f"/>
<text x="67.2" y="232.1" font-size="7.2" text-anchor="start" fill="#111" font-weight="normal" stroke="#111" stroke-width="0.15" >Venetoclax</text>
<line x1="55" y1="236.5" x2="63.8" y2="236.5" stroke="#2c4a7c" stroke-width="1.3" />
<polygon points="59.4,238.59 61.49,234.98 57.31,234.98" fill="#2c4a7c"/>
<text x="67.2" y="239.2" font-size="7.2" text-anchor="start" fill="#111" font-weight="normal" stroke="#111" stroke-width="0.15" >Tazemetostat</text>
<line x1="55" y1="243.5" x2="63.8" y2="243.5" stroke="#b5002e" stroke-width="1.3" />
<rect x="57.7" y="241.8" width="3.4" height="3.4" fill="#b5002e"/>
<text x="67.2" y="246.2" font-size="7.2" text-anchor="start" fill="#111" font-weight="normal" stroke="#111" stroke-width="0.15" >Combination</text>
<line x1="49" y1="369.8" x2="187.7" y2="369.8" stroke="#c6c6cc" stroke-width="2.9" />
<text x="47" y="379.7" font-size="7.3" text-anchor="start" fill="#111" font-weight="normal" stroke="#111" stroke-width="0.15" >Treatment</text>
<text x="48" y="389" font-size="7.4" text-anchor="start" fill="#111" font-weight="normal" stroke="#111" stroke-width="0.15"  textLength="31.6" lengthAdjust="spacingAndGlyphs">Day 0-21</text>
<text transform="translate(112.9,381.5) scale(0.58,1)" font-size="10" text-anchor="start" fill="#111" font-weight="bold">Day</text>
<text x="198.4" y="210.7" font-size="11.5" font-weight="bold" fill="#000" stroke="#000" stroke-width="0.3">E</text>
<line x1="242.5" y1="220.6" x2="242.5" y2="332.1" stroke="#222" stroke-width="1.2" />
<line x1="242.5" y1="331.6" x2="312.8" y2="331.6" stroke="#222" stroke-width="1.2" />
<line x1="239.7" y1="331.6" x2="242.5" y2="331.6" stroke="#222" stroke-width="0.9" />
<line x1="241" y1="324.32" x2="242.5" y2="324.32" stroke="#222" stroke-width="0.9" />
<line x1="241" y1="317.04" x2="242.5" y2="317.04" stroke="#222" stroke-width="0.9" />
<line x1="241" y1="309.76" x2="242.5" y2="309.76" stroke="#222" stroke-width="0.9" />
<line x1="241" y1="302.48" x2="242.5" y2="302.48" stroke="#222" stroke-width="0.9" />
<line x1="239.7" y1="295.2" x2="242.5" y2="295.2" stroke="#222" stroke-width="0.9" />
<line x1="241" y1="287.92" x2="242.5" y2="287.92" stroke="#222" stroke-width="0.9" />
<line x1="241" y1="280.64" x2="242.5" y2="280.64" stroke="#222" stroke-width="0.9" />
<line x1="241" y1="273.36" x2="242.5" y2="273.36" stroke="#222" stroke-width="0.9" />
<line x1="241" y1="266.08" x2="242.5" y2="266.08" stroke="#222" stroke-width="0.9" />
<line x1="239.7" y1="258.8" x2="242.5" y2="258.8" stroke="#222" stroke-width="0.9" />
<line x1="241" y1="251.52" x2="242.5" y2="251.52" stroke="#222" stroke-width="0.9" />
<line x1="241" y1="244.24" x2="242.5" y2="244.24" stroke="#222" stroke-width="0.9" />
<line x1="241" y1="236.96" x2="242.5" y2="236.96" stroke="#222" stroke-width="0.9" />
<line x1="241" y1="229.68" x2="242.5" y2="229.68" stroke="#222" stroke-width="0.9" />
<line x1="239.7" y1="222.4" x2="242.5" y2="222.4" stroke="#222" stroke-width="0.9" />
<text x="236.8" y="334.6" font-size="8.4" text-anchor="end" fill="#111" font-weight="normal" stroke="#111" stroke-width="0.15" >0</text>
<text x="236.8" y="298.2" font-size="8.4" text-anchor="end" fill="#111" font-weight="normal" stroke="#111" stroke-width="0.15" >5000</text>
<text x="236.8" y="261.8" font-size="8.4" text-anchor="end" fill="#111" font-weight="normal" stroke="#111" stroke-width="0.15" >10000</text>
<text x="236.8" y="225.4" font-size="8.4" text-anchor="end" fill="#111" font-weight="normal" stroke="#111" stroke-width="0.15" >15000</text>
<text transform="translate(207.2,275.4) rotate(-90) scale(0.64,1)" font-size="9.2" text-anchor="middle" fill="#111" font-weight="bold">AUC</text>
<rect x="248.1" y="236.09" width="10.3" height="95.51" fill="#6aa842" stroke="#6aa842" stroke-width="0.4"/>
<line x1="253.25" y1="236.09" x2="253.25" y2="232.01" stroke="#222" stroke-width="0.9" />
<line x1="250.75" y1="232.01" x2="255.75" y2="232.01" stroke="#222" stroke-width="0.9" />
<line x1="253.25" y1="331.6" x2="253.25" y2="334.4" stroke="#222" stroke-width="0.9" />
<rect x="264.4" y="250.65" width="10.3" height="80.95" fill="#55255f" stroke="#55255f" stroke-width="0.4"/>
<line x1="269.55" y1="250.65" x2="269.55" y2="246.64" stroke="#222" stroke-width="0.9" />
<line x1="267.05" y1="246.64" x2="272.05" y2="246.64" stroke="#222" stroke-width="0.9" />
<line x1="269.55" y1="331.6" x2="269.55" y2="334.4" stroke="#222" stroke-width="0.9" />
<rect x="280.6" y="295.64" width="10.3" height="35.96" fill="#2c4a7c" stroke="#2c4a7c" stroke-width="0.4"/>
<line x1="285.75" y1="295.64" x2="285.75" y2="293.45" stroke="#222" stroke-width="0.9" />
<line x1="283.25" y1="293.45" x2="288.25" y2="293.45" stroke="#222" stroke-width="0.9" />
<line x1="285.75" y1="331.6" x2="285.75" y2="334.4" stroke="#222" stroke-width="0.9" />
<rect x="296.6" y="299.71" width="10.3" height="31.89" fill="#b5002e" stroke="#b5002e" stroke-width="0.4"/>
<line x1="301.75" y1="299.71" x2="301.75" y2="297.24" stroke="#222" stroke-width="0.9" />
<line x1="299.25" y1="297.24" x2="304.25" y2="297.24" stroke="#222" stroke-width="0.9" />
<line x1="301.75" y1="331.6" x2="301.75" y2="334.4" stroke="#222" stroke-width="0.9" />
<text transform="translate(257.75,343.8) rotate(-45) scale(1.0,1)" font-size="7.7" text-anchor="end" fill="#111" font-weight="normal">Vehicle</text>
<text transform="translate(274.05,343.8) rotate(-45) scale(1.0,1)" font-size="7.7" text-anchor="end" fill="#111" font-weight="normal">Venetoclax</text>
<text transform="translate(290.25,343.8) rotate(-45) scale(1.0,1)" font-size="7.7" text-anchor="end" fill="#111" font-weight="normal">Tazemetostat</text>
<text transform="translate(306.25,343.8) rotate(-45) scale(1.0,1)" font-size="7.7" text-anchor="end" fill="#111" font-weight="normal">Combination</text>
<line x1="257.5" y1="223.1" x2="301.9" y2="223.1" stroke="#222" stroke-width="0.9" />
<text x="279.4" y="222.5" font-size="7.8" text-anchor="middle" fill="#111" font-weight="normal" stroke="#111" stroke-width="0.15" >****</text>
<line x1="272.5" y1="238.3" x2="301.9" y2="238.3" stroke="#222" stroke-width="0.9" />
<text x="286.6" y="237" font-size="7.8" text-anchor="middle" fill="#111" font-weight="normal" stroke="#111" stroke-width="0.15" >****</text>
<text x="6.6" y="416.8" font-size="11.5" font-weight="bold" fill="#000" stroke="#000" stroke-width="0.3">G</text>
<text x="140.5" y="428.3" font-size="9.6" text-anchor="start" fill="#111" font-weight="normal" stroke="#111" stroke-width="0.15"  textLength="18.4" lengthAdjust="spacingAndGlyphs">PDX</text>
<line x1="48.8" y1="434" x2="48.8" y2="592.7" stroke="#222" stroke-width="1.2" />
<line x1="46.5" y1="592.2" x2="248.5" y2="592.2" stroke="#222" stroke-width="1.2" />
<line x1="45.8" y1="592.2" x2="48.8" y2="592.2" stroke="#222" stroke-width="0.9" />
<line x1="47.2" y1="579.33" x2="48.8" y2="579.33" stroke="#222" stroke-width="0.9" />
<line x1="47.2" y1="566.45" x2="48.8" y2="566.45" stroke="#222" stroke-width="0.9" />
<line x1="47.2" y1="553.58" x2="48.8" y2="553.58" stroke="#222" stroke-width="0.9" />
<line x1="45.8" y1="540.7" x2="48.8" y2="540.7" stroke="#222" stroke-width="0.9" />
<line x1="47.2" y1="527.83" x2="48.8" y2="527.83" stroke="#222" stroke-width="0.9" />
<line x1="47.2" y1="514.95" x2="48.8" y2="514.95" stroke="#222" stroke-width="0.9" />
<line x1="47.2" y1="502.08" x2="48.8" y2="502.08" stroke="#222" stroke-width="0.9" />
<line x1="45.8" y1="489.2" x2="48.8" y2="489.2" stroke="#222" stroke-width="0.9" />
<line x1="47.2" y1="476.33" x2="48.8" y2="476.33" stroke="#222" stroke-width="0.9" />
<line x1="47.2" y1="463.45" x2="48.8" y2="463.45" stroke="#222" stroke-width="0.9" />
<line x1="47.2" y1="450.58" x2="48.8" y2="450.58" stroke="#222" stroke-width="0.9" />
<line x1="45.8" y1="437.7" x2="48.8" y2="437.7" stroke="#222" stroke-width="0.9" />
<text x="42.6" y="595.2" font-size="8.4" text-anchor="end" fill="#111" font-weight="normal" stroke="#111" stroke-width="0.15" >0</text>
<text x="42.6" y="543.7" font-size="8.4" text-anchor="end" fill="#111" font-weight="normal" stroke="#111" stroke-width="0.15" >1000</text>
<text x="42.6" y="492.2" font-size="8.4" text-anchor="end" fill="#111" font-weight="normal" stroke="#111" stroke-width="0.15" >2000</text>
<text x="42.6" y="440.7" font-size="8.4" text-anchor="end" fill="#111" font-weight="normal" stroke="#111" stroke-width="0.15" >3000</text>
<line x1="49.2" y1="592.2" x2="49.2" y2="595.2" stroke="#222" stroke-width="0.8" />
<line x1="59.1" y1="592.2" x2="59.1" y2="594.2" stroke="#222" stroke-width="0.8" />
<line x1="69" y1="592.2" x2="69" y2="594.2" stroke="#222" stroke-width="0.8" />
<line x1="78.9" y1="592.2" x2="78.9" y2="594.2" stroke="#222" stroke-width="0.8" />
<line x1="88.8" y1="592.2" x2="88.8" y2="594.2" stroke="#222" stroke-width="0.8" />
<line x1="98.7" y1="592.2" x2="98.7" y2="595.2" stroke="#222" stroke-width="0.8" />
<line x1="108.6" y1="592.2" x2="108.6" y2="594.2" stroke="#222" stroke-width="0.8" />
<line x1="118.5" y1="592.2" x2="118.5" y2="594.2" stroke="#222" stroke-width="0.8" />
<line x1="128.4" y1="592.2" x2="128.4" y2="594.2" stroke="#222" stroke-width="0.8" />
<line x1="138.3" y1="592.2" x2="138.3" y2="594.2" stroke="#222" stroke-width="0.8" />
<line x1="148.2" y1="592.2" x2="148.2" y2="595.2" stroke="#222" stroke-width="0.8" />
<line x1="158.1" y1="592.2" x2="158.1" y2="594.2" stroke="#222" stroke-width="0.8" />
<line x1="168" y1="592.2" x2="168" y2="594.2" stroke="#222" stroke-width="0.8" />
<line x1="177.9" y1="592.2" x2="177.9" y2="594.2" stroke="#222" stroke-width="0.8" />
<line x1="187.8" y1="592.2" x2="187.8" y2="594.2" stroke="#222" stroke-width="0.8" />
<line x1="197.7" y1="592.2" x2="197.7" y2="595.2" stroke="#222" stroke-width="0.8" />
<line x1="207.6" y1="592.2" x2="207.6" y2="594.2" stroke="#222" stroke-width="0.8" />
<line x1="217.5" y1="592.2" x2="217.5" y2="594.2" stroke="#222" stroke-width="0.8" />
<line x1="227.4" y1="592.2" x2="227.4" y2="594.2" stroke="#222" stroke-width="0.8" />
<line x1="237.3" y1="592.2" x2="237.3" y2="594.2" stroke="#222" stroke-width="0.8" />
<line x1="247.2" y1="592.2" x2="247.2" y2="595.2" stroke="#222" stroke-width="0.8" />
<text x="49.2" y="605.9" font-size="7.9" text-anchor="middle" fill="#111" font-weight="normal" stroke="#111" stroke-width="0.15" >0</text>
<text x="98.7" y="605.9" font-size="7.9" text-anchor="middle" fill="#111" font-weight="normal" stroke="#111" stroke-width="0.15" >50</text>
<text x="148.2" y="605.9" font-size="7.9" text-anchor="middle" fill="#111" font-weight="normal" stroke="#111" stroke-width="0.15" >100</text>
<text x="197.7" y="605.9" font-size="7.9" text-anchor="middle" fill="#111" font-weight="normal" stroke="#111" stroke-width="0.15" >150</text>
<text x="247.2" y="605.9" font-size="7.9" text-anchor="middle" fill="#111" font-weight="normal" stroke="#111" stroke-width="0.15" >200</text>
<text transform="translate(18.6,513.5) rotate(-90) scale(0.63,1)" font-size="10.8" text-anchor="middle" fill="#111" font-weight="normal" stroke="#111" stroke-width="0.2">Tumor volume (mm<tspan font-size="6.5" dy="-3.8">3</tspan><tspan dy="3.8">)</tspan></text>
<polyline points="48.7,573.4 51,580 53.2,585.3 55.4,588.3 57.6,591.2 114.54,592.3" fill="none" stroke="#b5002e" stroke-width="1.0" />
<polyline points="114.54,592.3 117.51,592.3 123.45,592.3 126.42,592.3 129.39,592.3 135.33,592.3 138.3,592.3 141.27,592.3 144.24,592.3 147.21,592.3 150.18,592.3 153.15,592.3 156.12,592.3 159.09,592.3 162.06,592.3 165.03,592.3 173.94,592.3 176.91,592.3 179.88,592.3 182.85,592.3 185.82,592.3 188.79,592.3 191.76,592.3 194.73,592.3 197.7,592.3 200.67,592.3 203.64,592.3 206.61,592.3 209.58,592.3 212.55,592.3 215.52,592.3 218.49,592.3 221.46,592.3 224.43,592.3 227.4,592.3 230.37,592.3 233.34,592.3 236.31,592.3 239.28,592.3 242.25,592.3 245.22,592.3" fill="none" stroke="#b5002e" stroke-width="2.0" />
<rect x="112.94" y="590.7" width="3.2" height="3.2" fill="#b5002e"/>
<rect x="115.91" y="590.7" width="3.2" height="3.2" fill="#b5002e"/>
<rect x="121.85" y="590.7" width="3.2" height="3.2" fill="#b5002e"/>
<rect x="124.82" y="590.7" width="3.2" height="3.2" fill="#b5002e"/>
<rect x="127.79" y="590.7" width="3.2" height="3.2" fill="#b5002e"/>
<rect x="133.73" y="590.7" width="3.2" height="3.2" fill="#b5002e"/>
<rect x="136.7" y="590.7" width="3.2" height="3.2" fill="#b5002e"/>
<rect x="139.67" y="590.7" width="3.2" height="3.2" fill="#b5002e"/>
<rect x="142.64" y="590.7" width="3.2" height="3.2" fill="#b5002e"/>
<rect x="145.61" y="590.7" width="3.2" height="3.2" fill="#b5002e"/>
<rect x="148.58" y="590.7" width="3.2" height="3.2" fill="#b5002e"/>
<rect x="151.55" y="590.7" width="3.2" height="3.2" fill="#b5002e"/>
<rect x="154.52" y="590.7" width="3.2" height="3.2" fill="#b5002e"/>
<rect x="157.49" y="590.7" width="3.2" height="3.2" fill="#b5002e"/>
<rect x="160.46" y="590.7" width="3.2" height="3.2" fill="#b5002e"/>
<rect x="163.43" y="590.7" width="3.2" height="3.2" fill="#b5002e"/>
<rect x="172.34" y="590.7" width="3.2" height="3.2" fill="#b5002e"/>
<rect x="175.31" y="590.7" width="3.2" height="3.2" fill="#b5002e"/>
<rect x="178.28" y="590.7" width="3.2" height="3.2" fill="#b5002e"/>
<rect x="181.25" y="590.7" width="3.2" height="3.2" fill="#b5002e"/>
<rect x="184.22" y="590.7" width="3.2" height="3.2" fill="#b5002e"/>
<rect x="187.19" y="590.7" width="3.2" height="3.2" fill="#b5002e"/>
<rect x="190.16" y="590.7" width="3.2" height="3.2" fill="#b5002e"/>
<rect x="193.13" y="590.7" width="3.2" height="3.2" fill="#b5002e"/>
<rect x="196.1" y="590.7" width="3.2" height="3.2" fill="#b5002e"/>
<rect x="199.07" y="590.7" width="3.2" height="3.2" fill="#b5002e"/>
<rect x="202.04" y="590.7" width="3.2" height="3.2" fill="#b5002e"/>
<rect x="205.01" y="590.7" width="3.2" height="3.2" fill="#b5002e"/>
<rect x="207.98" y="590.7" width="3.2" height="3.2" fill="#b5002e"/>
<rect x="210.95" y="590.7" width="3.2" height="3.2" fill="#b5002e"/>
<rect x="213.92" y="590.7" width="3.2" height="3.2" fill="#b5002e"/>
<rect x="216.89" y="590.7" width="3.2" height="3.2" fill="#b5002e"/>
<rect x="219.86" y="590.7" width="3.2" height="3.2" fill="#b5002e"/>
<rect x="222.83" y="590.7" width="3.2" height="3.2" fill="#b5002e"/>
<rect x="225.8" y="590.7" width="3.2" height="3.2" fill="#b5002e"/>
<rect x="228.77" y="590.7" width="3.2" height="3.2" fill="#b5002e"/>
<rect x="231.74" y="590.7" width="3.2" height="3.2" fill="#b5002e"/>
<rect x="234.71" y="590.7" width="3.2" height="3.2" fill="#b5002e"/>
<rect x="237.68" y="590.7" width="3.2" height="3.2" fill="#b5002e"/>
<rect x="240.65" y="590.7" width="3.2" height="3.2" fill="#b5002e"/>
<rect x="243.62" y="590.7" width="3.2" height="3.2" fill="#b5002e"/>
<rect x="47.2" y="571.9" width="3" height="3" fill="#b5002e"/>
<rect x="49.5" y="578.5" width="3" height="3" fill="#b5002e"/>
<rect x="51.7" y="583.8" width="3" height="3" fill="#b5002e"/>
<rect x="53.9" y="586.8" width="3" height="3" fill="#b5002e"/>
<rect x="56.1" y="589.7" width="3" height="3" fill="#b5002e"/>
<rect x="56.71" y="591" width="2.8" height="2.8" fill="#b5002e"/>
<rect x="58.69" y="591" width="2.8" height="2.8" fill="#b5002e"/>
<rect x="60.67" y="591" width="2.8" height="2.8" fill="#b5002e"/>
<rect x="69.58" y="591" width="2.8" height="2.8" fill="#b5002e"/>
<rect x="91.36" y="591" width="2.8" height="2.8" fill="#b5002e"/>
<rect x="95.32" y="591" width="2.8" height="2.8" fill="#b5002e"/>
<rect x="103.24" y="591" width="2.8" height="2.8" fill="#b5002e"/>
<rect x="109.18" y="591" width="2.8" height="2.8" fill="#b5002e"/>
<g stroke="#6aa842" stroke-width="0.9" opacity="0.65"><line x1="48.7" y1="578.1" x2="48.7" y2="582.1"/><line x1="47.2" y1="578.1" x2="50.2" y2="578.1"/><line x1="47.2" y1="582.1" x2="50.2" y2="582.1"/></g>
<g stroke="#6aa842" stroke-width="0.9" opacity="0.65"><line x1="51.7" y1="569.7" x2="51.7" y2="575.7"/><line x1="50.2" y1="569.7" x2="53.2" y2="569.7"/><line x1="50.2" y1="575.7" x2="53.2" y2="575.7"/></g>
<g stroke="#6aa842" stroke-width="0.9" opacity="0.65"><line x1="54.6" y1="565.2" x2="54.6" y2="571.2"/><line x1="53.1" y1="565.2" x2="56.1" y2="565.2"/><line x1="53.1" y1="571.2" x2="56.1" y2="571.2"/></g>
<g stroke="#6aa842" stroke-width="0.9" opacity="0.65"><line x1="57" y1="561" x2="57" y2="569"/><line x1="55.5" y1="561" x2="58.5" y2="561"/><line x1="55.5" y1="569" x2="58.5" y2="569"/></g>
<g stroke="#6aa842" stroke-width="0.9" opacity="0.65"><line x1="59.1" y1="557.3" x2="59.1" y2="567.3"/><line x1="57.6" y1="557.3" x2="60.6" y2="557.3"/><line x1="57.6" y1="567.3" x2="60.6" y2="567.3"/></g>
<g stroke="#6aa842" stroke-width="0.9" opacity="0.65"><line x1="61.3" y1="553.3" x2="61.3" y2="565.3"/><line x1="59.8" y1="553.3" x2="62.8" y2="553.3"/><line x1="59.8" y1="565.3" x2="62.8" y2="565.3"/></g>
<g stroke="#6aa842" stroke-width="0.9" opacity="0.65"><line x1="64.3" y1="549.6" x2="64.3" y2="561.6"/><line x1="62.8" y1="549.6" x2="65.8" y2="549.6"/><line x1="62.8" y1="561.6" x2="65.8" y2="561.6"/></g>
<g stroke="#6aa842" stroke-width="0.9" opacity="0.65"><line x1="67.3" y1="545.2" x2="67.3" y2="557.2"/><line x1="65.8" y1="545.2" x2="68.8" y2="545.2"/><line x1="65.8" y1="557.2" x2="68.8" y2="557.2"/></g>
<g stroke="#6aa842" stroke-width="0.9" opacity="0.65"><line x1="68.7" y1="540" x2="68.7" y2="552"/><line x1="67.2" y1="540" x2="70.2" y2="540"/><line x1="67.2" y1="552" x2="70.2" y2="552"/></g>
<g stroke="#6aa842" stroke-width="0.9" opacity="0.65"><line x1="71" y1="532" x2="71" y2="548"/><line x1="69.5" y1="532" x2="72.5" y2="532"/><line x1="69.5" y1="548" x2="72.5" y2="548"/></g>
<g stroke="#6aa842" stroke-width="0.9" opacity="0.65"><line x1="73.2" y1="513.3" x2="73.2" y2="531.3"/><line x1="71.7" y1="513.3" x2="74.7" y2="513.3"/><line x1="71.7" y1="531.3" x2="74.7" y2="531.3"/></g>
<g stroke="#6aa842" stroke-width="0.9" opacity="0.65"><line x1="76.3" y1="506.9" x2="76.3" y2="524.9"/><line x1="74.8" y1="506.9" x2="77.8" y2="506.9"/><line x1="74.8" y1="524.9" x2="77.8" y2="524.9"/></g>
<g stroke="#6aa842" stroke-width="0.9" opacity="0.65"><line x1="79.1" y1="501.9" x2="79.1" y2="521.9"/><line x1="77.6" y1="501.9" x2="80.6" y2="501.9"/><line x1="77.6" y1="521.9" x2="80.6" y2="521.9"/></g>
<g stroke="#6aa842" stroke-width="0.9" opacity="0.65"><line x1="81.2" y1="498.7" x2="81.2" y2="524.7"/><line x1="79.7" y1="498.7" x2="82.7" y2="498.7"/><line x1="79.7" y1="524.7" x2="82.7" y2="524.7"/></g>
<g stroke="#6aa842" stroke-width="0.9" opacity="0.65"><line x1="82.6" y1="490.5" x2="82.6" y2="514.5"/><line x1="81.1" y1="490.5" x2="84.1" y2="490.5"/><line x1="81.1" y1="514.5" x2="84.1" y2="514.5"/></g>
<g stroke="#6aa842" stroke-width="0.9" opacity="0.65"><line x1="84.7" y1="482.2" x2="84.7" y2="510.2"/><line x1="83.2" y1="482.2" x2="86.2" y2="482.2"/><line x1="83.2" y1="510.2" x2="86.2" y2="510.2"/></g>
<g stroke="#6aa842" stroke-width="0.9" opacity="0.65"><line x1="88.2" y1="460.7" x2="88.2" y2="500.7"/><line x1="86.7" y1="460.7" x2="89.7" y2="460.7"/><line x1="86.7" y1="500.7" x2="89.7" y2="500.7"/></g>
<g stroke="#6aa842" stroke-width="0.9" opacity="0.65"><line x1="91" y1="449" x2="91" y2="487"/><line x1="89.5" y1="449" x2="92.5" y2="449"/><line x1="89.5" y1="487" x2="92.5" y2="487"/></g>
<g stroke="#6aa842" stroke-width="0.9" opacity="0.65"><line x1="92.5" y1="447.3" x2="92.5" y2="487.3"/><line x1="91" y1="447.3" x2="94" y2="447.3"/><line x1="91" y1="487.3" x2="94" y2="487.3"/></g>
<polyline points="48.7,580.1 51.7,572.7 54.6,568.2 57,565 59.1,562.3 61.3,559.3 64.3,555.6 67.3,551.2 68.7,546 71,540 73.2,522.3 76.3,515.9 79.1,511.9 81.2,511.7 82.6,502.5 84.7,496.2 88.2,480.7 91,468 92.5,467.3" fill="none" stroke="#6aa842" stroke-width="0.9" />
<circle cx="48.7" cy="580.1" r="1.4" fill="#6aa842"/>
<circle cx="51.7" cy="572.7" r="1.4" fill="#6aa842"/>
<circle cx="54.6" cy="568.2" r="1.4" fill="#6aa842"/>
<circle cx="57" cy="565" r="1.4" fill="#6aa842"/>
<circle cx="59.1" cy="562.3" r="1.4" fill="#6aa842"/>
<circle cx="61.3" cy="559.3" r="1.4" fill="#6aa842"/>
<circle cx="64.3" cy="555.6" r="1.4" fill="#6aa842"/>
<circle cx="67.3" cy="551.2" r="1.4" fill="#6aa842"/>
<circle cx="68.7" cy="546" r="1.4" fill="#6aa842"/>
<circle cx="71" cy="540" r="1.4" fill="#6aa842"/>
<circle cx="73.2" cy="522.3" r="1.4" fill="#6aa842"/>
<circle cx="76.3" cy="515.9" r="1.4" fill="#6aa842"/>
<circle cx="79.1" cy="511.9" r="1.4" fill="#6aa842"/>
<circle cx="81.2" cy="511.7" r="1.4" fill="#6aa842"/>
<circle cx="82.6" cy="502.5" r="1.4" fill="#6aa842"/>
<circle cx="84.7" cy="496.2" r="1.4" fill="#6aa842"/>
<circle cx="88.2" cy="480.7" r="1.4" fill="#6aa842"/>
<circle cx="91" cy="468" r="1.4" fill="#6aa842"/>
<circle cx="92.5" cy="467.3" r="1.4" fill="#6aa842"/>
<g stroke="#55255f" stroke-width="0.8" opacity="0.7"><line x1="50.9" y1="578.9" x2="50.9" y2="582.9"/><line x1="49.7" y1="578.9" x2="52.1" y2="578.9"/><line x1="49.7" y1="582.9" x2="52.1" y2="582.9"/></g>
<g stroke="#55255f" stroke-width="0.8" opacity="0.7"><line x1="53.5" y1="577" x2="53.5" y2="581"/><line x1="52.3" y1="577" x2="54.7" y2="577"/><line x1="52.3" y1="581" x2="54.7" y2="581"/></g>
<g stroke="#55255f" stroke-width="0.8" opacity="0.7"><line x1="56.1" y1="574.2" x2="56.1" y2="580.2"/><line x1="54.9" y1="574.2" x2="57.3" y2="574.2"/><line x1="54.9" y1="580.2" x2="57.3" y2="580.2"/></g>
<g stroke="#55255f" stroke-width="0.8" opacity="0.7"><line x1="59.8" y1="568.7" x2="59.8" y2="576.7"/><line x1="58.6" y1="568.7" x2="61" y2="568.7"/><line x1="58.6" y1="576.7" x2="61" y2="576.7"/></g>
<g stroke="#55255f" stroke-width="0.8" opacity="0.7"><line x1="62.8" y1="564.7" x2="62.8" y2="574.7"/><line x1="61.6" y1="564.7" x2="64" y2="564.7"/><line x1="61.6" y1="574.7" x2="64" y2="574.7"/></g>
<g stroke="#55255f" stroke-width="0.8" opacity="0.7"><line x1="65.8" y1="557.3" x2="65.8" y2="567.3"/><line x1="64.6" y1="557.3" x2="67" y2="557.3"/><line x1="64.6" y1="567.3" x2="67" y2="567.3"/></g>
<g stroke="#55255f" stroke-width="0.8" opacity="0.7"><line x1="68.7" y1="550.4" x2="68.7" y2="562.4"/><line x1="67.5" y1="550.4" x2="69.9" y2="550.4"/><line x1="67.5" y1="562.4" x2="69.9" y2="562.4"/></g>
<g stroke="#55255f" stroke-width="0.8" opacity="0.7"><line x1="71.7" y1="539.5" x2="71.7" y2="555.5"/><line x1="70.5" y1="539.5" x2="72.9" y2="539.5"/><line x1="70.5" y1="555.5" x2="72.9" y2="555.5"/></g>
<g stroke="#55255f" stroke-width="0.8" opacity="0.7"><line x1="73.9" y1="533.5" x2="73.9" y2="549.5"/><line x1="72.7" y1="533.5" x2="75.1" y2="533.5"/><line x1="72.7" y1="549.5" x2="75.1" y2="549.5"/></g>
<g stroke="#55255f" stroke-width="0.8" opacity="0.7"><line x1="76.2" y1="528.1" x2="76.2" y2="540.1"/><line x1="75" y1="528.1" x2="77.4" y2="528.1"/><line x1="75" y1="540.1" x2="77.4" y2="540.1"/></g>
<g stroke="#55255f" stroke-width="0.8" opacity="0.7"><line x1="79.1" y1="515.7" x2="79.1" y2="531.7"/><line x1="77.9" y1="515.7" x2="80.3" y2="515.7"/><line x1="77.9" y1="531.7" x2="80.3" y2="531.7"/></g>
<g stroke="#55255f" stroke-width="0.8" opacity="0.7"><line x1="80.5" y1="500.9" x2="80.5" y2="516.9"/><line x1="79.3" y1="500.9" x2="81.7" y2="500.9"/><line x1="79.3" y1="516.9" x2="81.7" y2="516.9"/></g>
<g stroke="#55255f" stroke-width="0.8" opacity="0.7"><line x1="83.3" y1="480.6" x2="83.3" y2="500.6"/><line x1="82.1" y1="480.6" x2="84.5" y2="480.6"/><line x1="82.1" y1="500.6" x2="84.5" y2="500.6"/></g>
<g stroke="#55255f" stroke-width="0.8" opacity="0.7"><line x1="84.7" y1="473.5" x2="84.7" y2="493.5"/><line x1="83.5" y1="473.5" x2="85.9" y2="473.5"/><line x1="83.5" y1="493.5" x2="85.9" y2="493.5"/></g>
<g stroke="#55255f" stroke-width="0.8" opacity="0.7"><line x1="86.1" y1="460.8" x2="86.1" y2="480.8"/><line x1="84.9" y1="460.8" x2="87.3" y2="460.8"/><line x1="84.9" y1="480.8" x2="87.3" y2="480.8"/></g>
<g stroke="#55255f" stroke-width="0.8" opacity="0.7"><line x1="88.2" y1="447.6" x2="88.2" y2="471.6"/><line x1="87" y1="447.6" x2="89.4" y2="447.6"/><line x1="87" y1="471.6" x2="89.4" y2="471.6"/></g>
<g stroke="#55255f" stroke-width="0.8" opacity="0.7"><line x1="90.5" y1="438" x2="90.5" y2="466"/><line x1="89.3" y1="438" x2="91.7" y2="438"/><line x1="89.3" y1="466" x2="91.7" y2="466"/></g>
<g stroke="#55255f" stroke-width="0.8" opacity="0.7"><line x1="92.5" y1="434.9" x2="92.5" y2="458.9"/><line x1="91.3" y1="434.9" x2="93.7" y2="434.9"/><line x1="91.3" y1="458.9" x2="93.7" y2="458.9"/></g>
<g stroke="#55255f" stroke-width="0.8" opacity="0.7"><line x1="95.3" y1="438.8" x2="95.3" y2="450.8"/><line x1="94.1" y1="438.8" x2="96.5" y2="438.8"/><line x1="94.1" y1="450.8" x2="96.5" y2="450.8"/></g>
<polyline points="50.9,580.9 53.5,579 56.1,577.2 59.8,572.7 62.8,569.7 65.8,562.3 68.7,556.4 71.7,547.5 73.9,541.5 76.2,534.1 79.1,523.7 80.5,508.9 83.3,490.6 84.7,483.5 86.1,470.8 88.2,459.6 90.5,452 92.5,446.9 95.3,444.8 97.4,442" fill="none" stroke="#55255f" stroke-width="0.9" />
<polygon points="50.9,579.47 52.33,581.94 49.47,581.94" fill="#55255f"/>
<polygon points="53.5,577.57 54.93,580.04 52.07,580.04" fill="#55255f"/>
<polygon points="56.1,575.77 57.53,578.24 54.67,578.24" fill="#55255f"/>
<polygon points="59.8,571.27 61.23,573.74 58.37,573.74" fill="#55255f"/>
<polygon points="62.8,568.27 64.23,570.74 61.37,570.74" fill="#55255f"/>
<polygon points="65.8,560.87 67.23,563.34 64.37,563.34" fill="#55255f"/>
<polygon points="68.7,554.97 70.13,557.44 67.27,557.44" fill="#55255f"/>
<polygon points="71.7,546.07 73.13,548.54 70.27,548.54" fill="#55255f"/>
<polygon points="73.9,540.07 75.33,542.54 72.47,542.54" fill="#55255f"/>
<polygon points="76.2,532.67 77.63,535.14 74.77,535.14" fill="#55255f"/>
<polygon points="79.1,522.27 80.53,524.74 77.67,524.74" fill="#55255f"/>
<polygon points="80.5,507.47 81.93,509.94 79.07,509.94" fill="#55255f"/>
<polygon points="83.3,489.17 84.73,491.64 81.87,491.64" fill="#55255f"/>
<polygon points="84.7,482.07 86.13,484.54 83.27,484.54" fill="#55255f"/>
<polygon points="86.1,469.37 87.53,471.84 84.67,471.84" fill="#55255f"/>
<polygon points="88.2,458.17 89.63,460.64 86.77,460.64" fill="#55255f"/>
<polygon points="90.5,450.57 91.93,453.04 89.07,453.04" fill="#55255f"/>
<polygon points="92.5,445.47 93.93,447.94 91.07,447.94" fill="#55255f"/>
<polygon points="95.3,443.37 96.73,445.84 93.87,445.84" fill="#55255f"/>
<polygon points="97.4,440.57 98.83,443.04 95.97,443.04" fill="#55255f"/>
<g stroke="#2c4a7c" stroke-width="0.7" opacity="0.8"><line x1="130.7" y1="580.5" x2="130.7" y2="586.5"/><line x1="129.7" y1="580.5" x2="131.7" y2="580.5"/><line x1="129.7" y1="586.5" x2="131.7" y2="586.5"/></g>
<g stroke="#2c4a7c" stroke-width="0.7" opacity="0.8"><line x1="137.4" y1="550.1" x2="137.4" y2="570.1"/><line x1="136.4" y1="550.1" x2="138.4" y2="550.1"/><line x1="136.4" y1="570.1" x2="138.4" y2="570.1"/></g>
<g stroke="#2c4a7c" stroke-width="0.7" opacity="0.8"><line x1="138.4" y1="545.5" x2="138.4" y2="561.5"/><line x1="137.4" y1="545.5" x2="139.4" y2="545.5"/><line x1="137.4" y1="561.5" x2="139.4" y2="561.5"/></g>
<g stroke="#2c4a7c" stroke-width="0.7" opacity="0.8"><line x1="140.5" y1="528.2" x2="140.5" y2="552.2"/><line x1="139.5" y1="528.2" x2="141.5" y2="528.2"/><line x1="139.5" y1="552.2" x2="141.5" y2="552.2"/></g>
<g stroke="#2c4a7c" stroke-width="0.7" opacity="0.8"><line x1="141.5" y1="521" x2="141.5" y2="541"/><line x1="140.5" y1="521" x2="142.5" y2="521"/><line x1="140.5" y1="541" x2="142.5" y2="541"/></g>
<g stroke="#2c4a7c" stroke-width="0.7" opacity="0.8"><line x1="144.5" y1="502.3" x2="144.5" y2="546.3"/><line x1="143.5" y1="502.3" x2="145.5" y2="502.3"/><line x1="143.5" y1="546.3" x2="145.5" y2="546.3"/></g>
<g stroke="#2c4a7c" stroke-width="0.7" opacity="0.8"><line x1="147.7" y1="521.7" x2="147.7" y2="549.7"/><line x1="146.7" y1="521.7" x2="148.7" y2="521.7"/><line x1="146.7" y1="549.7" x2="148.7" y2="549.7"/></g>
<polyline points="49.5,579.4 52,579.6 56.1,580.9 59.8,586 62.8,590.5 65.8,591.6 69,591.6 72.96,591.6 76.92,591.6 80.88,591.6 84.84,591.6 88.8,591.6 92.76,591.6 96.72,591.6 100.68,591.6 104.64,591.6 108.6,591.6 112.56,591.6 116.52,591.6 120.48,591.6 123,590.8 126,588 130.7,583.5 137.4,560.1 138.4,553.5 140.5,540.2 141.5,531 144.5,524.3 147.7,535.7 151.2,527 154.6,461.9 157.8,461.9 159.7,440.6" fill="none" stroke="#2c4a7c" stroke-width="1.1" />
<polygon points="49.5,580.72 50.82,578.44 48.18,578.44" fill="#2c4a7c"/>
<polygon points="52,580.92 53.32,578.64 50.68,578.64" fill="#2c4a7c"/>
<polygon points="56.1,582.22 57.42,579.94 54.78,579.94" fill="#2c4a7c"/>
<polygon points="59.8,587.32 61.12,585.04 58.48,585.04" fill="#2c4a7c"/>
<polygon points="62.8,591.82 64.12,589.54 61.48,589.54" fill="#2c4a7c"/>
<polygon points="65.8,592.92 67.12,590.64 64.48,590.64" fill="#2c4a7c"/>
<polygon points="69,592.92 70.32,590.64 67.68,590.64" fill="#2c4a7c"/>
<polygon points="72.96,592.92 74.28,590.64 71.64,590.64" fill="#2c4a7c"/>
<polygon points="76.92,592.92 78.24,590.64 75.6,590.64" fill="#2c4a7c"/>
<polygon points="80.88,592.92 82.2,590.64 79.56,590.64" fill="#2c4a7c"/>
<polygon points="84.84,592.92 86.16,590.64 83.52,590.64" fill="#2c4a7c"/>
<polygon points="88.8,592.92 90.12,590.64 87.48,590.64" fill="#2c4a7c"/>
<polygon points="92.76,592.92 94.08,590.64 91.44,590.64" fill="#2c4a7c"/>
<polygon points="96.72,592.92 98.04,590.64 95.4,590.64" fill="#2c4a7c"/>
<polygon points="100.68,592.92 102,590.64 99.36,590.64" fill="#2c4a7c"/>
<polygon points="104.64,592.92 105.96,590.64 103.32,590.64" fill="#2c4a7c"/>
<polygon points="108.6,592.92 109.92,590.64 107.28,590.64" fill="#2c4a7c"/>
<polygon points="112.56,592.92 113.88,590.64 111.24,590.64" fill="#2c4a7c"/>
<polygon points="116.52,592.92 117.84,590.64 115.2,590.64" fill="#2c4a7c"/>
<polygon points="120.48,592.92 121.8,590.64 119.16,590.64" fill="#2c4a7c"/>
<polygon points="123,592.12 124.32,589.84 121.68,589.84" fill="#2c4a7c"/>
<polygon points="126,589.32 127.32,587.04 124.68,587.04" fill="#2c4a7c"/>
<polygon points="130.7,584.82 132.02,582.54 129.38,582.54" fill="#2c4a7c"/>
<polygon points="137.4,561.42 138.72,559.14 136.08,559.14" fill="#2c4a7c"/>
<polygon points="138.4,554.82 139.72,552.54 137.08,552.54" fill="#2c4a7c"/>
<polygon points="140.5,541.52 141.82,539.24 139.18,539.24" fill="#2c4a7c"/>
<polygon points="141.5,532.32 142.82,530.04 140.18,530.04" fill="#2c4a7c"/>
<polygon points="144.5,525.62 145.82,523.34 143.18,523.34" fill="#2c4a7c"/>
<polygon points="147.7,537.02 149.02,534.74 146.38,534.74" fill="#2c4a7c"/>
<polygon points="151.2,528.32 152.52,526.04 149.88,526.04" fill="#2c4a7c"/>
<polygon points="154.6,463.22 155.92,460.94 153.28,460.94" fill="#2c4a7c"/>
<polygon points="157.8,463.22 159.12,460.94 156.48,460.94" fill="#2c4a7c"/>
<polygon points="159.7,441.92 161.02,439.64 158.38,439.64" fill="#2c4a7c"/>
<line x1="196.9" y1="555.8" x2="205.4" y2="555.8" stroke="#6aa842" stroke-width="1.1" />
<circle cx="201.1" cy="555.8" r="1.6" fill="#6aa842"/>
<text x="208.5" y="558.4" font-size="7.3" text-anchor="start" fill="#111" font-weight="normal" stroke="#111" stroke-width="0.15" >Vehicle</text>
<line x1="196.9" y1="564.2" x2="205.4" y2="564.2" stroke="#55255f" stroke-width="1.1" />
<polygon points="201.1,562.44 202.86,565.48 199.34,565.48" fill="#55255f"/>
<text x="208.5" y="566.8" font-size="7.3" text-anchor="start" fill="#111" font-weight="normal" stroke="#111" stroke-width="0.15" >Venetoclax</text>
<line x1="196.9" y1="572.4" x2="205.4" y2="572.4" stroke="#2c4a7c" stroke-width="1.1" />
<polygon points="201.1,574.16 202.86,571.12 199.34,571.12" fill="#2c4a7c"/>
<text x="208.5" y="575" font-size="7.3" text-anchor="start" fill="#111" font-weight="normal" stroke="#111" stroke-width="0.15" >Tazemetostat</text>
<line x1="196.9" y1="580.8" x2="205.4" y2="580.8" stroke="#b5002e" stroke-width="1.1" />
<rect x="199.6" y="579.3" width="3" height="3" fill="#b5002e"/>
<text x="208.5" y="583.4" font-size="7.3" text-anchor="start" fill="#111" font-weight="normal" stroke="#111" stroke-width="0.15" >Combination</text>
<line x1="49.2" y1="610.5" x2="70.5" y2="610.5" stroke="#c6c6cc" stroke-width="2.8" />
<text x="49" y="621.3" font-size="7.3" text-anchor="start" fill="#111" font-weight="normal" stroke="#111" stroke-width="0.15" >Treatment</text>
<text x="49.2" y="631.2" font-size="7.4" text-anchor="start" fill="#111" font-weight="normal" stroke="#111" stroke-width="0.15"  textLength="31.6" lengthAdjust="spacingAndGlyphs">Day 0-21</text>
<text transform="translate(145,619.2) scale(0.62,1)" font-size="9.4" text-anchor="start" fill="#111" font-weight="bold">Day</text>
<text x="264.1" y="416.7" font-size="11.5" font-weight="bold" fill="#000" stroke="#000" stroke-width="0.3">H</text>
<text x="369.3" y="428.3" font-size="9.6" text-anchor="start" fill="#111" font-weight="normal" stroke="#111" stroke-width="0.15"  textLength="18.4" lengthAdjust="spacingAndGlyphs">PDX</text>
<line x1="298.5" y1="439.2" x2="298.5" y2="560.9" stroke="#222" stroke-width="1.2" />
<line x1="296" y1="560.4" x2="459" y2="560.4" stroke="#222" stroke-width="1.2" />
<line x1="296" y1="560.4" x2="298.5" y2="560.4" stroke="#222" stroke-width="0.9" />
<line x1="297.2" y1="549.66" x2="298.5" y2="549.66" stroke="#222" stroke-width="0.9" />
<line x1="297.2" y1="538.92" x2="298.5" y2="538.92" stroke="#222" stroke-width="0.9" />
<line x1="297.2" y1="528.18" x2="298.5" y2="528.18" stroke="#222" stroke-width="0.9" />
<line x1="297.2" y1="517.44" x2="298.5" y2="517.44" stroke="#222" stroke-width="0.9" />
<line x1="296" y1="506.7" x2="298.5" y2="506.7" stroke="#222" stroke-width="0.9" />
<line x1="297.2" y1="495.96" x2="298.5" y2="495.96" stroke="#222" stroke-width="0.9" />
<line x1="297.2" y1="485.22" x2="298.5" y2="485.22" stroke="#222" stroke-width="0.9" />
<line x1="297.2" y1="474.48" x2="298.5" y2="474.48" stroke="#222" stroke-width="0.9" />
<line x1="297.2" y1="463.74" x2="298.5" y2="463.74" stroke="#222" stroke-width="0.9" />
<line x1="296" y1="453" x2="298.5" y2="453" stroke="#222" stroke-width="0.9" />
<text x="292.5" y="563.4" font-size="8.4" text-anchor="end" fill="#111" font-weight="normal" stroke="#111" stroke-width="0.15" >0</text>
<text x="292.5" y="509.7" font-size="8.4" text-anchor="end" fill="#111" font-weight="normal" stroke="#111" stroke-width="0.15" >50</text>
<text x="292.5" y="456" font-size="8.4" text-anchor="end" fill="#111" font-weight="normal" stroke="#111" stroke-width="0.15" >100</text>
<line x1="298.5" y1="560.4" x2="298.5" y2="563.4" stroke="#222" stroke-width="0.8" />
<line x1="306.45" y1="560.4" x2="306.45" y2="562.4" stroke="#222" stroke-width="0.8" />
<line x1="314.4" y1="560.4" x2="314.4" y2="562.4" stroke="#222" stroke-width="0.8" />
<line x1="322.35" y1="560.4" x2="322.35" y2="562.4" stroke="#222" stroke-width="0.8" />
<line x1="330.3" y1="560.4" x2="330.3" y2="562.4" stroke="#222" stroke-width="0.8" />
<line x1="338.25" y1="560.4" x2="338.25" y2="563.4" stroke="#222" stroke-width="0.8" />
<line x1="346.2" y1="560.4" x2="346.2" y2="562.4" stroke="#222" stroke-width="0.8" />
<line x1="354.15" y1="560.4" x2="354.15" y2="562.4" stroke="#222" stroke-width="0.8" />
<line x1="362.1" y1="560.4" x2="362.1" y2="562.4" stroke="#222" stroke-width="0.8" />
<line x1="370.05" y1="560.4" x2="370.05" y2="562.4" stroke="#222" stroke-width="0.8" />
<line x1="378" y1="560.4" x2="378" y2="563.4" stroke="#222" stroke-width="0.8" />
<line x1="385.95" y1="560.4" x2="385.95" y2="562.4" stroke="#222" stroke-width="0.8" />
<line x1="393.9" y1="560.4" x2="393.9" y2="562.4" stroke="#222" stroke-width="0.8" />
<line x1="401.85" y1="560.4" x2="401.85" y2="562.4" stroke="#222" stroke-width="0.8" />
<line x1="409.8" y1="560.4" x2="409.8" y2="562.4" stroke="#222" stroke-width="0.8" />
<line x1="417.75" y1="560.4" x2="417.75" y2="563.4" stroke="#222" stroke-width="0.8" />
<line x1="425.7" y1="560.4" x2="425.7" y2="562.4" stroke="#222" stroke-width="0.8" />
<line x1="433.65" y1="560.4" x2="433.65" y2="562.4" stroke="#222" stroke-width="0.8" />
<line x1="441.6" y1="560.4" x2="441.6" y2="562.4" stroke="#222" stroke-width="0.8" />
<line x1="449.55" y1="560.4" x2="449.55" y2="562.4" stroke="#222" stroke-width="0.8" />
<line x1="457.5" y1="560.4" x2="457.5" y2="563.4" stroke="#222" stroke-width="0.8" />
<text x="298.5" y="573.5" font-size="7.9" text-anchor="middle" fill="#111" font-weight="normal" stroke="#111" stroke-width="0.15" >0</text>
<text x="338.25" y="573.5" font-size="7.9" text-anchor="middle" fill="#111" font-weight="normal" stroke="#111" stroke-width="0.15" >50</text>
<text x="378" y="573.5" font-size="7.9" text-anchor="middle" fill="#111" font-weight="normal" stroke="#111" stroke-width="0.15" >100</text>
<text x="417.75" y="573.5" font-size="7.9" text-anchor="middle" fill="#111" font-weight="normal" stroke="#111" stroke-width="0.15" >150</text>
<text x="457.5" y="573.5" font-size="7.9" text-anchor="middle" fill="#111" font-weight="normal" stroke="#111" stroke-width="0.15" >200</text>
<text transform="translate(272.6,500.2) rotate(-90) scale(0.65,1)" font-size="9.5" text-anchor="middle" fill="#111" font-weight="bold">% survival</text>
<polyline points="298.5,453 307.96,453 307.96,474.48 428.09,474.48 428.09,495.96 453.52,495.96 453.52,495.96" fill="none" stroke="#b5002e" stroke-width="1.45" />
<line x1="453.52" y1="495.96" x2="453.52" y2="493.27" stroke="#b5002e" stroke-width="1.1"/>
<polyline points="298.5,453 373.63,453 373.63,495.96 374.82,495.96 374.82,517.44 375.69,517.44 375.69,538.92 385.79,538.92 385.79,560.4" fill="none" stroke="#2c4a7c" stroke-width="1.45" stroke-dasharray="3,1.8"/>
<polyline points="298.5,453 325.53,453 325.53,474.48 331.89,474.48 331.89,517.44 335.47,517.44 335.47,560.4" fill="none" stroke="#55255f" stroke-width="1.45" />
<polyline points="298.5,453 310.11,453 310.11,474.48 325.53,474.48 325.53,495.96 331.89,495.96 331.89,560.4" fill="none" stroke="#6aa842" stroke-width="1.45" stroke-dasharray="3,1.8"/>
<text x="300.8" y="558" font-size="6.7" text-anchor="start" fill="#222" font-weight="normal" stroke="#222" stroke-width="0.15" >p=0.0522</text>
<text x="337.2" y="558" font-size="6.7" text-anchor="start" fill="#55255f" font-weight="normal" stroke="#55255f" stroke-width="0.15" >p=0.0442</text>
<text x="389.1" y="558" font-size="6.7" text-anchor="start" fill="#2c4a7c" font-weight="normal" stroke="#2c4a7c" stroke-width="0.15" >p=0.0339</text>
<line x1="408" y1="438.5" x2="411" y2="438.5" stroke="#6aa842" stroke-width="1.1" />
<line x1="413.5" y1="438.5" x2="417" y2="438.5" stroke="#6aa842" stroke-width="1.1" />
<line x1="411.5" y1="439.5" x2="413.1" y2="436.9" stroke="#6aa842" stroke-width="0.9" />
<text x="420" y="441" font-size="7.2" text-anchor="start" fill="#111" font-weight="normal" stroke="#111" stroke-width="0.15" >Vehicle</text>
<line x1="408" y1="448.2" x2="417" y2="448.2" stroke="#55255f" stroke-width="1.1" />
<line x1="412.5" y1="448.2" x2="412.5" y2="446" stroke="#55255f" stroke-width="0.9" />
<text x="420" y="450.7" font-size="7.2" text-anchor="start" fill="#111" font-weight="normal" stroke="#111" stroke-width="0.15" >Venetoclax</text>
<line x1="408" y1="457.8" x2="411" y2="457.8" stroke="#2c4a7c" stroke-width="1.1" />
<line x1="413.5" y1="457.8" x2="417" y2="457.8" stroke="#2c4a7c" stroke-width="1.1" />
<line x1="411.5" y1="458.8" x2="413.1" y2="456.2" stroke="#2c4a7c" stroke-width="0.9" />
<text x="420" y="460.3" font-size="7.2" text-anchor="start" fill="#111" font-weight="normal" stroke="#111" stroke-width="0.15" >Tazemetostat</text>
<line x1="408" y1="467.4" x2="417" y2="467.4" stroke="#b5002e" stroke-width="1.1" />
<line x1="412.5" y1="467.4" x2="412.5" y2="465.2" stroke="#b5002e" stroke-width="0.9" />
<text x="420" y="469.9" font-size="7.2" text-anchor="start" fill="#111" font-weight="normal" stroke="#111" stroke-width="0.15" >Combination</text>
<line x1="296" y1="579" x2="314" y2="579" stroke="#c6c6cc" stroke-width="2.6" />
<text x="296" y="588.6" font-size="7.3" text-anchor="start" fill="#111" font-weight="normal" stroke="#111" stroke-width="0.15" >Treatment</text>
<text x="296" y="598.4" font-size="7.4" text-anchor="start" fill="#111" font-weight="normal" stroke="#111" stroke-width="0.15"  textLength="31.6" lengthAdjust="spacingAndGlyphs">Day 0-21</text>
<text transform="translate(373.2,586.8) scale(0.58,1)" font-size="10" text-anchor="start" fill="#111" font-weight="bold">Day</text>
<text x="322.1" y="210.7" font-size="11.5" font-weight="bold" fill="#000" stroke="#000" stroke-width="0.3">F</text>
<text x="413.5" y="208.8" font-size="9.3" text-anchor="start" fill="#111" font-weight="normal" stroke="#111" stroke-width="0.15"  textLength="18.4" lengthAdjust="spacingAndGlyphs">PDX</text>
<text x="366.8" y="223" font-size="8.5" text-anchor="start" fill="#111" font-weight="normal" stroke="#111" stroke-width="0.15"  textLength="24.2" lengthAdjust="spacingAndGlyphs">Day 19</text>
<text x="456.5" y="223" font-size="8.5" text-anchor="start" fill="#111" font-weight="normal" stroke="#111" stroke-width="0.15"  textLength="25.2" lengthAdjust="spacingAndGlyphs">Day 92</text>
<text transform="translate(329.4,256) rotate(-90) scale(1.0,1)" font-size="7.6" text-anchor="middle" fill="#111" font-weight="normal">Tazemetostat</text>
<text transform="translate(329.4,318) rotate(-90) scale(1.0,1)" font-size="7.6" text-anchor="middle" fill="#111" font-weight="normal">Combination</text>
<rect x="0.5" y="0.5" width="519" height="639" fill="none" stroke="#000" stroke-width="1.3"/>
<defs><linearGradient id="mgA" x1="0" y1="0" x2="0" y2="1"><stop offset="0" stop-color="#2c2c2c"/><stop offset="0.15" stop-color="#3e3e3e"/><stop offset="0.35" stop-color="#4e4e4e"/><stop offset="0.6" stop-color="#5e5e5e"/><stop offset="0.75" stop-color="#787878"/><stop offset="0.9" stop-color="#464646"/><stop offset="1" stop-color="#262626"/></linearGradient><linearGradient id="mgB" x1="0" y1="0" x2="0" y2="1"><stop offset="0" stop-color="#404040"/><stop offset="0.15" stop-color="#5a5a5a"/><stop offset="0.35" stop-color="#686868"/><stop offset="0.6" stop-color="#727272"/><stop offset="0.75" stop-color="#8e8e8e"/><stop offset="0.9" stop-color="#666"/><stop offset="1" stop-color="#303030"/></linearGradient><filter id="halo" x="-20%" y="-10%" width="140%" height="120%"><feGaussianBlur stdDeviation="1.3"/></filter><filter id="bl2"><feGaussianBlur stdDeviation="0.45"/></filter><clipPath id="mclip"><rect x="0" y="0" width="20.4" height="56.6"/></clipPath><path id="mshape" d="M10.2,3.5 C6,3.5 3,5 2.4,8.5 C2,12 1.9,18 1.9,24 L2,32 C2.3,37 3.5,40 5.5,43.5 C7.2,46.5 8.7,49.5 10.2,52 C11.7,49.5 13.2,46.5 14.9,43.5 C16.9,40 18.1,37 18.4,32 L18.5,24 C18.5,18 18.4,12 18,8.5 C17.4,5 14.4,3.5 10.2,3.5 Z"/><g id="mdet"><path d="M6.2,40 L14.2,40 L10.2,50.5 Z" fill="#767676"/><path d="M2.8,30 C4.6,35 7.3,39.5 10.2,41.5 C13.1,39.5 15.8,35 17.6,30" fill="none" stroke="#9a9a9a" stroke-width="1.7"/><ellipse cx="10.2" cy="42" rx="3.2" ry="3.4" fill="#a6a6a6"/><ellipse cx="5.2" cy="39" rx="1.3" ry="3.2" transform="rotate(-25 5.2 39)" fill="#3c3c3c"/><ellipse cx="15.2" cy="39" rx="1.3" ry="3.2" transform="rotate(25 15.2 39)" fill="#3c3c3c"/><path d="M2.6,11 C2.3,16 2.3,24 2.7,31" fill="none" stroke="#7c7c7c" stroke-width="1.3"/><path d="M17.8,11 C18.1,16 18.1,24 17.7,31" fill="none" stroke="#7c7c7c" stroke-width="1.3"/></g><filter id="tx0" x="-10%" y="-5%" width="120%" height="110%" color-interpolation-filters="sRGB"><feTurbulence type="fractalNoise" baseFrequency="0.3" numOctaves="2" seed="3" result="n"/><feColorMatrix in="n" type="matrix" values="1 0 0 0 0  1 0 0 0 0  1 0 0 0 0  0 0 0 0 1" result="g"/><feComposite in="SourceGraphic" in2="g" operator="arithmetic" k1="1.25" k2="0.4" k3="0" k4="0" result="m"/><feComposite in="m" in2="SourceAlpha" operator="in" result="c"/><feGaussianBlur in="c" stdDeviation="0.5"/></filter><filter id="tx1" x="-10%" y="-5%" width="120%" height="110%" color-interpolation-filters="sRGB"><feTurbulence type="fractalNoise" baseFrequency="0.3" numOctaves="2" seed="8" result="n"/><feColorMatrix in="n" type="matrix" values="1 0 0 0 0  1 0 0 0 0  1 0 0 0 0  0 0 0 0 1" result="g"/><feComposite in="SourceGraphic" in2="g" operator="arithmetic" k1="1.25" k2="0.4" k3="0" k4="0" result="m"/><feComposite in="m" in2="SourceAlpha" operator="in" result="c"/><feGaussianBlur in="c" stdDeviation="0.5"/></filter><filter id="tx2" x="-10%" y="-5%" width="120%" height="110%" color-interpolation-filters="sRGB"><feTurbulence type="fractalNoise" baseFrequency="0.3" numOctaves="2" seed="13" result="n"/><feColorMatrix in="n" type="matrix" values="1 0 0 0 0  1 0 0 0 0  1 0 0 0 0  0 0 0 0 1" result="g"/><feComposite in="SourceGraphic" in2="g" operator="arithmetic" k1="1.25" k2="0.4" k3="0" k4="0" result="m"/><feComposite in="m" in2="SourceAlpha" operator="in" result="c"/><feGaussianBlur in="c" stdDeviation="0.5"/></filter><filter id="tx3" x="-10%" y="-5%" width="120%" height="110%" color-interpolation-filters="sRGB"><feTurbulence type="fractalNoise" baseFrequency="0.3" numOctaves="2" seed="18" result="n"/><feColorMatrix in="n" type="matrix" values="1 0 0 0 0  1 0 0 0 0  1 0 0 0 0  0 0 0 0 1" result="g"/><feComposite in="SourceGraphic" in2="g" operator="arithmetic" k1="1.25" k2="0.4" k3="0" k4="0" result="m"/><feComposite in="m" in2="SourceAlpha" operator="in" result="c"/><feGaussianBlur in="c" stdDeviation="0.5"/></filter><filter id="tx4" x="-10%" y="-5%" width="120%" height="110%" color-interpolation-filters="sRGB"><feTurbulence type="fractalNoise" baseFrequency="0.3" numOctaves="2" seed="23" result="n"/><feColorMatrix in="n" type="matrix" values="1 0 0 0 0  1 0 0 0 0  1 0 0 0 0  0 0 0 0 1" result="g"/><feComposite in="SourceGraphic" in2="g" operator="arithmetic" k1="1.25" k2="0.4" k3="0" k4="0" result="m"/><feComposite in="m" in2="SourceAlpha" operator="in" result="c"/><feGaussianBlur in="c" stdDeviation="0.5"/></filter><filter id="tx5" x="-10%" y="-5%" width="120%" height="110%" color-interpolation-filters="sRGB"><feTurbulence type="fractalNoise" baseFrequency="0.3" numOctaves="2" seed="28" result="n"/><feColorMatrix in="n" type="matrix" values="1 0 0 0 0  1 0 0 0 0  1 0 0 0 0  0 0 0 0 1" result="g"/><feComposite in="SourceGraphic" in2="g" operator="arithmetic" k1="1.25" k2="0.4" k3="0" k4="0" result="m"/><feComposite in="m" in2="SourceAlpha" operator="in" result="c"/><feGaussianBlur in="c" stdDeviation="0.5"/></filter><filter id="tx6" x="-10%" y="-5%" width="120%" height="110%" color-interpolation-filters="sRGB"><feTurbulence type="fractalNoise" baseFrequency="0.3" numOctaves="2" seed="33" result="n"/><feColorMatrix in="n" type="matrix" values="1 0 0 0 0  1 0 0 0 0  1 0 0 0 0  0 0 0 0 1" result="g"/><feComposite in="SourceGraphic" in2="g" operator="arithmetic" k1="1.25" k2="0.4" k3="0" k4="0" result="m"/><feComposite in="m" in2="SourceAlpha" operator="in" result="c"/><feGaussianBlur in="c" stdDeviation="0.5"/></filter><filter id="tx7" x="-10%" y="-5%" width="120%" height="110%" color-interpolation-filters="sRGB"><feTurbulence type="fractalNoise" baseFrequency="0.3" numOctaves="2" seed="38" result="n"/><feColorMatrix in="n" type="matrix" values="1 0 0 0 0  1 0 0 0 0  1 0 0 0 0  0 0 0 0 1" result="g"/><feComposite in="SourceGraphic" in2="g" operator="arithmetic" k1="1.25" k2="0.4" k3="0" k4="0" result="m"/><feComposite in="m" in2="SourceAlpha" operator="in" result="c"/><feGaussianBlur in="c" stdDeviation="0.5"/></filter></defs>
<rect x="354.7" y="228" width="2.05" height="56.6" fill="#bcbcbc"/>
<rect x="377.05" y="228" width="2.05" height="56.6" fill="#bcbcbc"/>
<rect x="399.4" y="228" width="2.05" height="56.6" fill="#bcbcbc"/>
<rect x="446.2" y="228" width="1.9" height="56.6" fill="#bcbcbc"/>
<rect x="468.4" y="228" width="2" height="56.6" fill="#bcbcbc"/>
<rect x="490.7" y="228" width="1.8" height="56.6" fill="#bcbcbc"/>
<rect x="354.7" y="289.1" width="2.05" height="56.6" fill="#bcbcbc"/>
<rect x="377.05" y="289.1" width="2.05" height="56.6" fill="#bcbcbc"/>
<rect x="399.4" y="289.1" width="2.05" height="56.6" fill="#bcbcbc"/>
<rect x="446.2" y="289.1" width="1.9" height="56.6" fill="#bcbcbc"/>
<rect x="468.4" y="289.1" width="2" height="56.6" fill="#bcbcbc"/>
<rect x="490.7" y="289.1" width="1.8" height="56.6" fill="#bcbcbc"/>
<g transform="translate(334.4,228)"><rect x="0" y="0" width="20.4" height="56.6" fill="#1c1c1c" stroke="#0a0a0a" stroke-width="0.6"/><g clip-path="url(#mclip)"><use href="#mshape" fill="#3a3a3a" filter="url(#halo)" transform="translate(10.2,28) scale(1.06,1.04) translate(-10.2,-28)"/><g filter="url(#tx0)"><use href="#mshape" fill="url(#mgA)"/><use href="#mdet" opacity="0.75"/></g><ellipse cx="5" cy="35" rx="1.6" ry="3.4" fill="#ec4656" opacity="0.85" filter="url(#bl2)"/></g></g>
<g transform="translate(356.75,228)"><rect x="0" y="0" width="20.4" height="56.6" fill="#1c1c1c" stroke="#0a0a0a" stroke-width="0.6"/><g clip-path="url(#mclip)"><use href="#mshape" fill="#3a3a3a" filter="url(#halo)" transform="translate(10.2,28) scale(1.06,1.04) translate(-10.2,-28)"/><g filter="url(#tx3)"><use href="#mshape" fill="url(#mgA)"/><use href="#mdet" opacity="0.75"/><ellipse cx="5.8" cy="12.5" rx="2.6" ry="3" fill="#c8c8c8" filter="url(#bl2)"/></g><ellipse cx="3.7" cy="31" rx="1.3" ry="2.9" fill="#ec4656" opacity="0.85" filter="url(#bl2)"/></g></g>
<g transform="translate(379.1,228)"><rect x="0" y="0" width="20.4" height="56.6" fill="#1c1c1c" stroke="#0a0a0a" stroke-width="0.6"/><g clip-path="url(#mclip)"><use href="#mshape" fill="#3a3a3a" filter="url(#halo)" transform="translate(10.2,28) scale(1.06,1.04) translate(-10.2,-28)"/><g filter="url(#tx6)"><use href="#mshape" fill="url(#mgA)"/><use href="#mdet" opacity="0.75"/><circle cx="10.4" cy="15" r="1.3" fill="#d0d0d0"/></g><ellipse cx="3.9" cy="29.3" rx="1.4" ry="3.9" fill="#ec4656" opacity="0.85" filter="url(#bl2)"/></g></g>
<g transform="translate(401.45,228)"><rect x="0" y="0" width="20.4" height="56.6" fill="#1c1c1c" stroke="#0a0a0a" stroke-width="0.6"/><g clip-path="url(#mclip)"><use href="#mshape" fill="#3a3a3a" filter="url(#halo)" transform="translate(10.2,28) scale(1.06,1.04) translate(-10.2,-28)"/><g filter="url(#tx1)"><use href="#mshape" fill="url(#mgA)"/><use href="#mdet" opacity="0.75"/><circle cx="11.5" cy="13" r="1.1" fill="#c8c8c8"/></g><ellipse cx="3.6" cy="32.5" rx="1.2" ry="3.6" fill="#ec4656" opacity="0.85" filter="url(#bl2)"/></g></g>
<g transform="translate(425.9,228)"><rect x="0" y="0" width="20.4" height="56.6" fill="#1c1c1c" stroke="#0a0a0a" stroke-width="0.6"/><g clip-path="url(#mclip)"><use href="#mshape" fill="#3a3a3a" filter="url(#halo)" transform="translate(10.2,28) scale(1.06,1.04) translate(-10.2,-28)"/><g filter="url(#tx4)"><use href="#mshape" fill="url(#mgA)"/><use href="#mdet" opacity="0.75"/></g><ellipse cx="3.6" cy="31" rx="3" ry="3.4" fill="#ec4656" opacity="0.85" filter="url(#bl2)"/><ellipse cx="5" cy="37.5" rx="3.6" ry="4.6" fill="#ec4656" opacity="0.85" filter="url(#bl2)"/><ellipse cx="3.5" cy="34" rx="2.8" ry="3" fill="#ec4656" opacity="0.85" filter="url(#bl2)"/></g></g>
<g transform="translate(448.1,228)"><rect x="0" y="0" width="20.4" height="56.6" fill="#1c1c1c" stroke="#0a0a0a" stroke-width="0.6"/><g clip-path="url(#mclip)"><use href="#mshape" fill="#3a3a3a" filter="url(#halo)" transform="translate(10.2,28) scale(1.06,1.04) translate(-10.2,-28)"/><g filter="url(#tx7)"><use href="#mshape" fill="url(#mgA)"/><use href="#mdet" opacity="0.75"/></g><ellipse cx="3.2" cy="33" rx="1.9" ry="4.3" fill="#ec4656" opacity="0.85" filter="url(#bl2)"/><ellipse cx="4.4" cy="41" rx="2.4" ry="5" fill="#ec4656" opacity="0.85" filter="url(#bl2)"/></g></g>
<g transform="translate(470.4,228)"><rect x="0" y="0" width="20.4" height="56.6" fill="#1c1c1c" stroke="#0a0a0a" stroke-width="0.6"/><g clip-path="url(#mclip)"><use href="#mshape" fill="#3a3a3a" filter="url(#halo)" transform="translate(10.2,28) scale(1.06,1.04) translate(-10.2,-28)"/><g filter="url(#tx2)"><use href="#mshape" fill="url(#mgA)"/><use href="#mdet" opacity="0.75"/></g><ellipse cx="5.2" cy="25" rx="3" ry="4.5" fill="#ec4656" opacity="0.85" filter="url(#bl2)"/><ellipse cx="6.3" cy="32" rx="4.2" ry="7.5" fill="#ec4656" opacity="0.85" filter="url(#bl2)"/><ellipse cx="5" cy="36" rx="3.4" ry="3.6" fill="#ec4656" opacity="0.85" filter="url(#bl2)"/></g></g>
<g transform="translate(492.5,228)"><rect x="0" y="0" width="20.4" height="56.6" fill="#1c1c1c" stroke="#0a0a0a" stroke-width="0.6"/><g clip-path="url(#mclip)"><use href="#mshape" fill="#3a3a3a" filter="url(#halo)" transform="translate(10.2,28) scale(1.06,1.04) translate(-10.2,-28)"/><g filter="url(#tx5)"><use href="#mshape" fill="url(#mgA)"/><use href="#mdet" opacity="0.75"/></g><ellipse cx="3.8" cy="29.6" rx="2.2" ry="3" fill="#ec4656" opacity="0.85" filter="url(#bl2)"/><ellipse cx="4.2" cy="35.5" rx="3.1" ry="4.2" fill="#ec4656" opacity="0.85" filter="url(#bl2)"/></g></g>
<g transform="translate(334.4,289.1)"><rect x="0" y="0" width="20.4" height="56.6" fill="#1c1c1c" stroke="#0a0a0a" stroke-width="0.6"/><g clip-path="url(#mclip)"><use href="#mshape" fill="#3a3a3a" filter="url(#halo)" transform="translate(10.2,28) scale(1.06,1.04) translate(-10.2,-28)"/><g filter="url(#tx4)"><use href="#mshape" fill="url(#mgB)"/><use href="#mdet" opacity="1"/><circle cx="10.8" cy="15" r="1.1" fill="#c0c0c0"/></g></g></g>
<g transform="translate(356.75,289.1)"><rect x="0" y="0" width="20.4" height="56.6" fill="#1c1c1c" stroke="#0a0a0a" stroke-width="0.6"/><g clip-path="url(#mclip)"><use href="#mshape" fill="#3a3a3a" filter="url(#halo)" transform="translate(10.2,28) scale(1.06,1.04) translate(-10.2,-28)"/><g filter="url(#tx7)"><use href="#mshape" fill="url(#mgB)"/><use href="#mdet" opacity="1"/><circle cx="10.8" cy="15" r="1.1" fill="#c0c0c0"/></g></g></g>
<g transform="translate(379.1,289.1)"><rect x="0" y="0" width="20.4" height="56.6" fill="#1c1c1c" stroke="#0a0a0a" stroke-width="0.6"/><g clip-path="url(#mclip)"><use href="#mshape" fill="#3a3a3a" filter="url(#halo)" transform="translate(10.2,28) scale(1.06,1.04) translate(-10.2,-28)"/><g filter="url(#tx2)"><use href="#mshape" fill="url(#mgB)"/><use href="#mdet" opacity="1"/><circle cx="10.8" cy="15" r="1.1" fill="#c0c0c0"/></g></g></g>
<g transform="translate(401.45,289.1)"><rect x="0" y="0" width="20.4" height="56.6" fill="#1c1c1c" stroke="#0a0a0a" stroke-width="0.6"/><g clip-path="url(#mclip)"><use href="#mshape" fill="#3a3a3a" filter="url(#halo)" transform="translate(10.2,28) scale(1.06,1.04) translate(-10.2,-28)"/><g filter="url(#tx5)"><use href="#mshape" fill="url(#mgB)"/><use href="#mdet" opacity="1"/><circle cx="10.8" cy="15" r="1.1" fill="#c0c0c0"/></g></g></g>
<g transform="translate(425.9,289.1)"><rect x="0" y="0" width="20.4" height="56.6" fill="#1c1c1c" stroke="#0a0a0a" stroke-width="0.6"/><g clip-path="url(#mclip)"><use href="#mshape" fill="#3a3a3a" filter="url(#halo)" transform="translate(10.2,28) scale(1.06,1.04) translate(-10.2,-28)"/><g filter="url(#tx0)"><use href="#mshape" fill="url(#mgB)"/><use href="#mdet" opacity="1"/><circle cx="10.8" cy="15" r="1.1" fill="#c0c0c0"/></g></g></g>
<g transform="translate(448.1,289.1)"><rect x="0" y="0" width="20.4" height="56.6" fill="#1c1c1c" stroke="#0a0a0a" stroke-width="0.6"/><g clip-path="url(#mclip)"><use href="#mshape" fill="#3a3a3a" filter="url(#halo)" transform="translate(10.2,28) scale(1.06,1.04) translate(-10.2,-28)"/><g filter="url(#tx3)"><use href="#mshape" fill="url(#mgB)"/><use href="#mdet" opacity="1"/><circle cx="10.8" cy="15" r="1.1" fill="#c0c0c0"/></g></g></g>
<g transform="translate(470.4,289.1)"><rect x="0" y="0" width="20.4" height="56.6" fill="#1c1c1c" stroke="#0a0a0a" stroke-width="0.6"/><g clip-path="url(#mclip)"><use href="#mshape" fill="#3a3a3a" filter="url(#halo)" transform="translate(10.2,28) scale(1.06,1.04) translate(-10.2,-28)"/><g filter="url(#tx6)"><use href="#mshape" fill="url(#mgB)"/><use href="#mdet" opacity="1"/><circle cx="10.8" cy="15" r="1.1" fill="#c0c0c0"/></g></g></g>
<g transform="translate(492.5,289.1)"><rect x="0" y="0" width="20.4" height="56.6" fill="#1c1c1c" stroke="#0a0a0a" stroke-width="0.6"/><g clip-path="url(#mclip)"><use href="#mshape" fill="#3a3a3a" filter="url(#halo)" transform="translate(10.2,28) scale(1.06,1.04) translate(-10.2,-28)"/><g filter="url(#tx1)"><use href="#mshape" fill="url(#mgB)"/><use href="#mdet" opacity="1"/><circle cx="10.8" cy="15" r="1.1" fill="#c0c0c0"/></g></g></g>
</svg></body></html>
